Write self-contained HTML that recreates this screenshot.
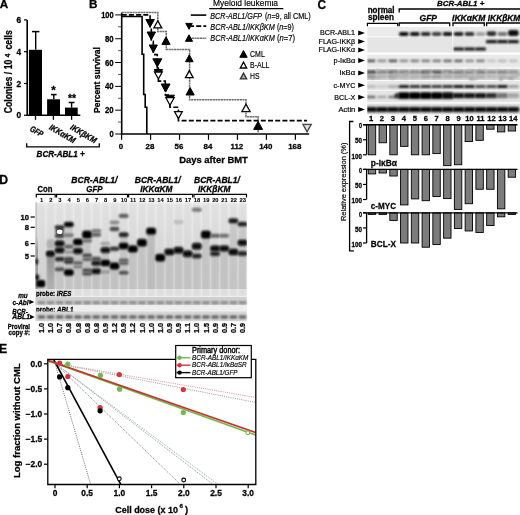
<!DOCTYPE html>
<html><head><meta charset="utf-8"><style>
html,body{margin:0;padding:0;background:#fff;width:520px;height:515px;overflow:hidden}
svg{display:block;filter:blur(0.35px)}
text{font-family:"Liberation Sans", sans-serif}
</style></head><body>
<svg width="520" height="515" viewBox="0 0 520 515" font-family='"Liberation Sans", sans-serif'><defs><filter id="b3" x="-50%" y="-50%" width="200%" height="200%"><feGaussianBlur stdDeviation="0.3"/></filter><filter id="b4" x="-50%" y="-50%" width="200%" height="200%"><feGaussianBlur stdDeviation="0.4"/></filter><filter id="b5" x="-50%" y="-50%" width="200%" height="200%"><feGaussianBlur stdDeviation="0.5"/></filter><filter id="b6" x="-50%" y="-50%" width="200%" height="200%"><feGaussianBlur stdDeviation="0.6"/></filter><filter id="b7" x="-50%" y="-50%" width="200%" height="200%"><feGaussianBlur stdDeviation="0.7"/></filter><filter id="b8" x="-50%" y="-50%" width="200%" height="200%"><feGaussianBlur stdDeviation="0.8"/></filter><filter id="b9" x="-50%" y="-50%" width="200%" height="200%"><feGaussianBlur stdDeviation="0.9"/></filter><filter id="b10" x="-50%" y="-50%" width="200%" height="200%"><feGaussianBlur stdDeviation="1.0"/></filter><filter id="b11" x="-50%" y="-50%" width="200%" height="200%"><feGaussianBlur stdDeviation="1.1"/></filter><filter id="b12" x="-50%" y="-50%" width="200%" height="200%"><feGaussianBlur stdDeviation="1.2"/></filter><filter id="b13" x="-50%" y="-50%" width="200%" height="200%"><feGaussianBlur stdDeviation="1.3"/></filter><filter id="b14" x="-50%" y="-50%" width="200%" height="200%"><feGaussianBlur stdDeviation="1.4"/></filter><filter id="b15" x="-50%" y="-50%" width="200%" height="200%"><feGaussianBlur stdDeviation="1.5"/></filter><filter id="b16" x="-50%" y="-50%" width="200%" height="200%"><feGaussianBlur stdDeviation="1.6"/></filter><filter id="b17" x="-50%" y="-50%" width="200%" height="200%"><feGaussianBlur stdDeviation="1.7"/></filter><filter id="b18" x="-50%" y="-50%" width="200%" height="200%"><feGaussianBlur stdDeviation="1.8"/></filter><filter id="b19" x="-50%" y="-50%" width="200%" height="200%"><feGaussianBlur stdDeviation="1.9"/></filter><filter id="b20" x="-50%" y="-50%" width="200%" height="200%"><feGaussianBlur stdDeviation="2.0"/></filter></defs><text x="-0.30" y="8.10" font-size="11.7" font-weight="bold" font-style="normal" text-anchor="start" fill="#000" stroke="#000" stroke-width="0.28">A</text>
<line x1="27.20" y1="19.90" x2="27.20" y2="116.10" stroke="#000" stroke-width="1.6"/>
<line x1="24.00" y1="115.30" x2="27.20" y2="115.30" stroke="#000" stroke-width="1.2"/>
<text x="21.00" y="118.30" font-size="8.3" font-weight="bold" font-style="normal" text-anchor="end" fill="#000" stroke="#000" stroke-width="0.28">0</text>
<line x1="24.00" y1="83.50" x2="27.20" y2="83.50" stroke="#000" stroke-width="1.2"/>
<text x="21.00" y="86.50" font-size="8.3" font-weight="bold" font-style="normal" text-anchor="end" fill="#000" stroke="#000" stroke-width="0.28">2</text>
<line x1="24.00" y1="51.70" x2="27.20" y2="51.70" stroke="#000" stroke-width="1.2"/>
<text x="21.00" y="54.70" font-size="8.3" font-weight="bold" font-style="normal" text-anchor="end" fill="#000" stroke="#000" stroke-width="0.28">4</text>
<line x1="24.00" y1="19.90" x2="27.20" y2="19.90" stroke="#000" stroke-width="1.2"/>
<text x="21.00" y="22.90" font-size="8.3" font-weight="bold" font-style="normal" text-anchor="end" fill="#000" stroke="#000" stroke-width="0.28">6</text>
<line x1="26.40" y1="115.30" x2="80.30" y2="115.30" stroke="#000" stroke-width="1.6"/>
<rect x="28.90" y="49.80" width="13.10" height="65.50" fill="#000"/>
<rect x="47.10" y="99.30" width="12.90" height="16.00" fill="#000"/>
<rect x="65.00" y="107.60" width="12.70" height="7.70" fill="#000"/>
<line x1="35.70" y1="31.60" x2="35.70" y2="49.80" stroke="#000" stroke-width="1.4"/>
<line x1="32.00" y1="31.60" x2="39.40" y2="31.60" stroke="#000" stroke-width="1.5"/>
<line x1="53.80" y1="94.60" x2="53.80" y2="99.30" stroke="#000" stroke-width="1.4"/>
<line x1="51.00" y1="94.60" x2="56.60" y2="94.60" stroke="#000" stroke-width="1.5"/>
<line x1="71.60" y1="102.50" x2="71.60" y2="107.60" stroke="#000" stroke-width="1.4"/>
<line x1="68.70" y1="102.50" x2="74.50" y2="102.50" stroke="#000" stroke-width="1.5"/>
<line x1="35.50" y1="115.30" x2="35.50" y2="119.80" stroke="#000" stroke-width="1.3"/>
<line x1="53.40" y1="115.30" x2="53.40" y2="119.80" stroke="#000" stroke-width="1.3"/>
<line x1="71.60" y1="115.30" x2="71.60" y2="119.80" stroke="#000" stroke-width="1.3"/>
<text x="53.50" y="93.60" font-size="11.5" font-weight="bold" font-style="normal" text-anchor="middle" fill="#000" stroke="#000" stroke-width="0.28">*</text>
<text x="72.00" y="102.40" font-size="11.5" font-weight="bold" font-style="normal" text-anchor="middle" fill="#000" stroke="#000" stroke-width="0.28" textLength="8.0" lengthAdjust="spacingAndGlyphs">**</text>
<text x="29.30" y="130.50" font-size="8.6" font-weight="bold" font-style="italic" text-anchor="start" fill="#000" stroke="#000" stroke-width="0.28" textLength="13.6" lengthAdjust="spacingAndGlyphs" transform="rotate(30 29.30 130.50)">GFP</text>
<text x="48.50" y="129.10" font-size="8.6" font-weight="bold" font-style="italic" text-anchor="start" fill="#000" stroke="#000" stroke-width="0.28" textLength="28.8" lengthAdjust="spacingAndGlyphs" transform="rotate(30 48.50 129.10)">IKK&#945;KM</text>
<text x="69.60" y="129.10" font-size="8.6" font-weight="bold" font-style="italic" text-anchor="start" fill="#000" stroke="#000" stroke-width="0.28" textLength="28.8" lengthAdjust="spacingAndGlyphs" transform="rotate(30 69.60 129.10)">IKK&#946;KM</text>
<path d="M26.7,143.3 L26.7,146.9 L99.3,146.9 L99.3,143.3" stroke="#000" stroke-width="1.3" fill="none"/>
<text x="36.60" y="157.20" font-size="8.2" font-weight="bold" font-style="italic" text-anchor="start" fill="#000" stroke="#000" stroke-width="0.28" textLength="48.1" lengthAdjust="spacingAndGlyphs">BCR-ABL1 +</text>
<text x="11.70" y="113.20" font-size="10.4" font-weight="bold" font-style="normal" text-anchor="start" fill="#000" stroke="#000" stroke-width="0.28" textLength="53.5" lengthAdjust="spacingAndGlyphs" transform="rotate(-90 11.70 113.20)">Colonies / 10</text>
<text x="9.60" y="57.20" font-size="6.6" font-weight="bold" font-style="normal" text-anchor="start" fill="#000" stroke="#000" stroke-width="0.28" transform="rotate(-90 9.60 57.20)">4</text>
<text x="11.70" y="49.50" font-size="10.4" font-weight="bold" font-style="normal" text-anchor="start" fill="#000" stroke="#000" stroke-width="0.28" textLength="19.4" lengthAdjust="spacingAndGlyphs" transform="rotate(-90 11.70 49.50)">cells</text>
<text x="89.00" y="8.30" font-size="11.7" font-weight="bold" font-style="normal" text-anchor="start" fill="#000" stroke="#000" stroke-width="0.28">B</text>
<line x1="121.70" y1="12.60" x2="121.70" y2="134.60" stroke="#000" stroke-width="1.6"/>
<line x1="115.20" y1="134.00" x2="121.70" y2="134.00" stroke="#000" stroke-width="1.0"/>
<text x="113.60" y="137.00" font-size="8.2" font-weight="bold" font-style="normal" text-anchor="end" fill="#000" stroke="#000" stroke-width="0.28" textLength="4.2" lengthAdjust="spacingAndGlyphs">0</text>
<line x1="118.00" y1="122.09" x2="121.70" y2="122.09" stroke="#333" stroke-width="0.8"/>
<line x1="115.20" y1="110.18" x2="121.70" y2="110.18" stroke="#000" stroke-width="1.0"/>
<text x="113.60" y="113.18" font-size="8.2" font-weight="bold" font-style="normal" text-anchor="end" fill="#000" stroke="#000" stroke-width="0.28" textLength="8.6" lengthAdjust="spacingAndGlyphs">20</text>
<line x1="118.00" y1="98.27" x2="121.70" y2="98.27" stroke="#333" stroke-width="0.8"/>
<line x1="115.20" y1="86.36" x2="121.70" y2="86.36" stroke="#000" stroke-width="1.0"/>
<text x="113.60" y="89.36" font-size="8.2" font-weight="bold" font-style="normal" text-anchor="end" fill="#000" stroke="#000" stroke-width="0.28" textLength="8.6" lengthAdjust="spacingAndGlyphs">40</text>
<line x1="118.00" y1="74.45" x2="121.70" y2="74.45" stroke="#333" stroke-width="0.8"/>
<line x1="115.20" y1="62.54" x2="121.70" y2="62.54" stroke="#000" stroke-width="1.0"/>
<text x="113.60" y="65.54" font-size="8.2" font-weight="bold" font-style="normal" text-anchor="end" fill="#000" stroke="#000" stroke-width="0.28" textLength="8.6" lengthAdjust="spacingAndGlyphs">60</text>
<line x1="118.00" y1="50.63" x2="121.70" y2="50.63" stroke="#333" stroke-width="0.8"/>
<line x1="115.20" y1="38.72" x2="121.70" y2="38.72" stroke="#000" stroke-width="1.0"/>
<text x="113.60" y="41.72" font-size="8.2" font-weight="bold" font-style="normal" text-anchor="end" fill="#000" stroke="#000" stroke-width="0.28" textLength="8.6" lengthAdjust="spacingAndGlyphs">80</text>
<line x1="118.00" y1="26.81" x2="121.70" y2="26.81" stroke="#333" stroke-width="0.8"/>
<line x1="115.20" y1="14.90" x2="121.70" y2="14.90" stroke="#000" stroke-width="1.0"/>
<text x="113.60" y="17.90" font-size="8.2" font-weight="bold" font-style="normal" text-anchor="end" fill="#000" stroke="#000" stroke-width="0.28" textLength="12.4" lengthAdjust="spacingAndGlyphs">100</text>
<line x1="121.00" y1="134.00" x2="309.20" y2="134.00" stroke="#000" stroke-width="1.6"/>
<line x1="121.60" y1="134.00" x2="121.60" y2="139.80" stroke="#000" stroke-width="1.2"/>
<text x="121.00" y="148.70" font-size="7.9" font-weight="bold" font-style="normal" text-anchor="middle" fill="#000" stroke="#000" stroke-width="0.28">0</text>
<line x1="150.57" y1="134.00" x2="150.57" y2="139.80" stroke="#000" stroke-width="1.2"/>
<text x="149.97" y="148.70" font-size="7.9" font-weight="bold" font-style="normal" text-anchor="middle" fill="#000" stroke="#000" stroke-width="0.28">28</text>
<line x1="179.53" y1="134.00" x2="179.53" y2="139.80" stroke="#000" stroke-width="1.2"/>
<text x="178.93" y="148.70" font-size="7.9" font-weight="bold" font-style="normal" text-anchor="middle" fill="#000" stroke="#000" stroke-width="0.28">56</text>
<line x1="208.50" y1="134.00" x2="208.50" y2="139.80" stroke="#000" stroke-width="1.2"/>
<text x="207.90" y="148.70" font-size="7.9" font-weight="bold" font-style="normal" text-anchor="middle" fill="#000" stroke="#000" stroke-width="0.28">84</text>
<line x1="237.46" y1="134.00" x2="237.46" y2="139.80" stroke="#000" stroke-width="1.2"/>
<text x="236.86" y="148.70" font-size="7.9" font-weight="bold" font-style="normal" text-anchor="middle" fill="#000" stroke="#000" stroke-width="0.28">112</text>
<line x1="266.43" y1="134.00" x2="266.43" y2="139.80" stroke="#000" stroke-width="1.2"/>
<text x="265.83" y="148.70" font-size="7.9" font-weight="bold" font-style="normal" text-anchor="middle" fill="#000" stroke="#000" stroke-width="0.28">140</text>
<line x1="295.40" y1="134.00" x2="295.40" y2="139.80" stroke="#000" stroke-width="1.2"/>
<text x="294.80" y="148.70" font-size="7.9" font-weight="bold" font-style="normal" text-anchor="middle" fill="#000" stroke="#000" stroke-width="0.28">168</text>
<text x="179.20" y="163.30" font-size="9.3" font-weight="bold" font-style="normal" text-anchor="start" fill="#000" stroke="#000" stroke-width="0.28" textLength="68.7" lengthAdjust="spacingAndGlyphs">Days after BMT</text>
<text x="100.20" y="113.00" font-size="9.9" font-weight="bold" font-style="normal" text-anchor="start" fill="#000" stroke="#000" stroke-width="0.28" textLength="66.0" lengthAdjust="spacingAndGlyphs" transform="rotate(-90 100.20 113.00)">Percent survival</text>
<path d="M121.7,12.6 H157.8 V31.4 H166.3 V49.4 H189.6 V99.8 H246 V116.8 H258.1 V134" stroke="#6e6e6e" stroke-width="1.5" fill="none" stroke-dasharray="2.2 0.5"/>
<path d="M121.7,16.5 H142.1 V54.2 H143.7 V94.5 H145.2 V107.3 H146.8 V134" stroke="#000" stroke-width="1.6" fill="none"/>
<path d="M121.7,14.9 H150.1 V28.1 H151.3 V41.3 H153.3 V54.6 H157.3 V68.0 H158.4 V81.1 H165.3 V95 H169.9 V107.3 H178.4 V120.6 H307.1" stroke="#000" stroke-width="1.6" fill="none" stroke-dasharray="5 2.2"/>
<path d="M145.86,19.50 L154.34,19.50 L150.10,27.20 Z" stroke="#000" stroke-width="1.0" fill="#000" stroke-linejoin="miter"/>
<path d="M147.06,32.00 L155.54,32.00 L151.30,39.70 Z" stroke="#000" stroke-width="1.0" fill="#000" stroke-linejoin="miter"/>
<path d="M149.18,45.00 L157.43,45.00 L153.30,52.50 Z" stroke="#000" stroke-width="1.0" fill="#000" stroke-linejoin="miter"/>
<path d="M152.84,58.80 L161.76,58.80 L157.30,66.90 Z" stroke="#000" stroke-width="1.0" fill="#000" stroke-linejoin="miter"/>
<path d="M154.22,69.50 L162.58,69.50 L158.40,77.10 Z" stroke="#000" stroke-width="1.0" fill="#000" stroke-linejoin="miter"/>
<path d="M154.52,72.00 L162.28,72.00 L158.40,79.00 Z" stroke="#000" stroke-width="1.3" fill="#fff" stroke-linejoin="miter"/>
<path d="M161.15,84.00 L170.05,84.00 L165.60,92.10 Z" stroke="#000" stroke-width="1.0" fill="#000" stroke-linejoin="miter"/>
<path d="M165.55,95.20 L174.45,95.20 L170.00,103.30 Z" stroke="#000" stroke-width="1.0" fill="#000" stroke-linejoin="miter"/>
<path d="M165.84,97.70 L174.16,97.70 L170.00,105.20 Z" stroke="#000" stroke-width="1.3" fill="#fff" stroke-linejoin="miter"/>
<path d="M174.58,111.70 L182.22,111.70 L178.40,118.60 Z" stroke="#000" stroke-width="1.3" fill="#fff" stroke-linejoin="miter"/>
<path d="M302.95,124.30 L311.25,124.30 L307.10,131.80 Z" stroke="#444" stroke-width="1.3" fill="#dcdcdc" stroke-linejoin="miter"/>
<path d="M153.87,27.90 L161.74,27.90 L157.80,20.80 Z" stroke="#000" stroke-width="1.3" fill="#fff" stroke-linejoin="miter"/>
<path d="M161.88,44.40 L170.12,44.40 L166.00,36.90 Z" stroke="#000" stroke-width="1.0" fill="#000" stroke-linejoin="miter"/>
<path d="M185.50,61.70 L193.10,61.70 L189.30,54.80 Z" stroke="#000" stroke-width="1.0" fill="#000" stroke-linejoin="miter"/>
<path d="M185.48,77.60 L193.12,77.60 L189.30,70.70 Z" stroke="#000" stroke-width="1.3" fill="#fff" stroke-linejoin="miter"/>
<path d="M185.97,95.00 L194.22,95.00 L190.10,87.50 Z" stroke="#000" stroke-width="1.0" fill="#000" stroke-linejoin="miter"/>
<path d="M241.84,111.60 L250.16,111.60 L246.00,104.10 Z" stroke="#111" stroke-width="1.3" fill="#f4f4f4" stroke-linejoin="miter"/>
<path d="M253.65,129.40 L262.56,129.40 L258.10,121.30 Z" stroke="#000" stroke-width="1.0" fill="#000" stroke-linejoin="miter"/>
<text x="213.00" y="6.40" font-size="8.8" font-weight="normal" font-style="normal" text-anchor="start" fill="#000" stroke="#000" stroke-width="0.18" textLength="65.0" lengthAdjust="spacingAndGlyphs">Myeloid leukemia</text>
<line x1="209.20" y1="8.60" x2="283.30" y2="8.60" stroke="#000" stroke-width="1.3"/>
<line x1="190.80" y1="15.10" x2="206.30" y2="15.10" stroke="#000" stroke-width="1.6"/>
<line x1="189.00" y1="26.10" x2="206.30" y2="26.10" stroke="#000" stroke-width="1.6" stroke-dasharray="5 2.2"/>
<line x1="189.00" y1="38.20" x2="206.30" y2="38.20" stroke="#6e6e6e" stroke-width="1.5" stroke-dasharray="2.2 0.5"/>
<path d="M185.75,23.40 L192.25,23.40 L189.00,29.30 Z" stroke="#000" stroke-width="1.0" fill="#000" stroke-linejoin="miter"/>
<path d="M185.43,41.30 L192.57,41.30 L189.00,34.80 Z" stroke="#000" stroke-width="1.0" fill="#000" stroke-linejoin="miter"/>
<text x="210.30" y="18.60" font-size="8.6" font-weight="normal" font-style="italic" text-anchor="start" fill="#000" stroke="#000" stroke-width="0.18" textLength="51.8" lengthAdjust="spacingAndGlyphs">BCR-ABL1/GFP</text>
<text x="264.90" y="18.60" font-size="8.6" font-weight="normal" font-style="normal" text-anchor="start" fill="#000" stroke="#000" stroke-width="0.18" textLength="45.9" lengthAdjust="spacingAndGlyphs">(<tspan font-style="italic">n</tspan>=9, all CML)</text>
<text x="210.30" y="30.00" font-size="8.6" font-weight="normal" font-style="italic" text-anchor="start" fill="#000" stroke="#000" stroke-width="0.18" textLength="64.5" lengthAdjust="spacingAndGlyphs">BCR-ABL1/IKK&#946;KM</text>
<text x="276.90" y="30.00" font-size="8.6" font-weight="normal" font-style="normal" text-anchor="start" fill="#000" stroke="#000" stroke-width="0.18" textLength="17.0" lengthAdjust="spacingAndGlyphs">(<tspan font-style="italic">n</tspan>=9)</text>
<text x="210.30" y="40.80" font-size="8.6" font-weight="normal" font-style="italic" text-anchor="start" fill="#000" stroke="#000" stroke-width="0.18" textLength="64.5" lengthAdjust="spacingAndGlyphs">BCR-ABL1/IKK&#945;KM</text>
<text x="276.90" y="40.80" font-size="8.6" font-weight="normal" font-style="normal" text-anchor="start" fill="#000" stroke="#000" stroke-width="0.18" textLength="18.1" lengthAdjust="spacingAndGlyphs">(<tspan font-style="italic">n</tspan>=7)</text>
<path d="M239.81,57.30 L247.19,57.30 L243.50,50.60 Z" stroke="#000" stroke-width="1.0" fill="#000" stroke-linejoin="miter"/>
<path d="M240.28,68.00 L246.72,68.00 L243.50,62.20 Z" stroke="#000" stroke-width="1.3" fill="#fff" stroke-linejoin="miter"/>
<path d="M240.34,78.90 L246.66,78.90 L243.50,73.20 Z" stroke="#333" stroke-width="1.3" fill="#a8a8a8" stroke-linejoin="miter"/>
<text x="250.10" y="57.20" font-size="8.3" font-weight="normal" font-style="normal" text-anchor="start" fill="#000" stroke="#000" stroke-width="0.18" textLength="14.7" lengthAdjust="spacingAndGlyphs">CML</text>
<text x="250.10" y="68.20" font-size="8.3" font-weight="normal" font-style="normal" text-anchor="start" fill="#000" stroke="#000" stroke-width="0.18" textLength="19.3" lengthAdjust="spacingAndGlyphs">B-ALL</text>
<text x="250.10" y="79.00" font-size="8.3" font-weight="normal" font-style="normal" text-anchor="start" fill="#000" stroke="#000" stroke-width="0.18" textLength="9.5" lengthAdjust="spacingAndGlyphs">HS</text>
<text x="317.60" y="8.50" font-size="11.9" font-weight="bold" font-style="normal" text-anchor="start" fill="#000" stroke="#000" stroke-width="0.28">C</text>
<text x="367.70" y="12.80" font-size="8.6" font-weight="bold" font-style="normal" text-anchor="start" fill="#000" stroke="#000" stroke-width="0.28" textLength="26.9" lengthAdjust="spacingAndGlyphs">normal</text>
<text x="368.00" y="19.90" font-size="8.6" font-weight="bold" font-style="normal" text-anchor="start" fill="#000" stroke="#000" stroke-width="0.28" textLength="26.0" lengthAdjust="spacingAndGlyphs">spleen</text>
<path d="M367.4,26.2 V23.4 H397.7 V26.2" stroke="#000" stroke-width="1.2" fill="none"/>
<path d="M399.2,12.6 V9.0 H521" stroke="#000" stroke-width="1.3" fill="none"/>
<text x="437.00" y="6.40" font-size="8.0" font-weight="bold" font-style="italic" text-anchor="start" fill="#000" stroke="#000" stroke-width="0.28" textLength="47.3" lengthAdjust="spacingAndGlyphs">BCR-ABL1 +</text>
<text x="419.60" y="20.80" font-size="9.0" font-weight="bold" font-style="italic" text-anchor="start" fill="#000" stroke="#000" stroke-width="0.28" textLength="17.4" lengthAdjust="spacingAndGlyphs">GFP</text>
<text x="452.00" y="20.80" font-size="9.0" font-weight="bold" font-style="italic" text-anchor="start" fill="#000" stroke="#000" stroke-width="0.28" textLength="33.4" lengthAdjust="spacingAndGlyphs">IKK&#945;KM</text>
<text x="487.80" y="20.80" font-size="9.0" font-weight="bold" font-style="italic" text-anchor="start" fill="#000" stroke="#000" stroke-width="0.28" textLength="32.5" lengthAdjust="spacingAndGlyphs">IKK&#946;KM</text>
<path d="M399.2,26.2 V23.0 H449.7 V26.2" stroke="#000" stroke-width="1.3" fill="none"/>
<path d="M453.0,26.2 V23.0 H484.3 V26.2" stroke="#000" stroke-width="1.3" fill="none"/>
<path d="M486.6,26.2 V23.0 H521" stroke="#000" stroke-width="1.3" fill="none"/>
<rect x="367.30" y="27.00" width="152.70" height="9.50" fill="#ebebeb"/>
<rect x="367.30" y="37.40" width="152.70" height="15.20" fill="#e5e5e5"/>
<rect x="367.30" y="54.70" width="152.70" height="12.90" fill="#e9e9e9"/>
<rect x="367.30" y="68.80" width="152.70" height="11.30" fill="#d6d6d6"/>
<rect x="367.30" y="81.00" width="152.70" height="8.90" fill="#e6e6e6"/>
<rect x="367.30" y="90.60" width="152.70" height="11.70" fill="#e4e4e4"/>
<rect x="367.30" y="103.60" width="152.70" height="10.80" fill="#dcdcdc"/>
<clipPath id="cc"><rect x="367.3" y="0" width="153" height="120"/></clipPath><g clip-path="url(#cc)">
<rect x="398.95" y="32.10" width="9.80" height="3.80" rx="1.90" fill="rgb(12,12,12)" filter="url(#b8)"/>
<rect x="409.90" y="32.10" width="9.80" height="3.80" rx="1.90" fill="rgb(23,23,23)" filter="url(#b8)"/>
<rect x="420.85" y="32.10" width="9.80" height="3.80" rx="1.90" fill="rgb(42,42,42)" filter="url(#b8)"/>
<rect x="431.80" y="32.10" width="9.80" height="3.80" rx="1.90" fill="rgb(65,65,65)" filter="url(#b8)"/>
<rect x="442.75" y="32.10" width="9.80" height="3.80" rx="1.90" fill="rgb(23,23,23)" filter="url(#b8)"/>
<rect x="453.70" y="32.10" width="9.80" height="3.80" rx="1.90" fill="rgb(28,28,28)" filter="url(#b8)"/>
<rect x="464.65" y="32.10" width="9.80" height="3.80" rx="1.90" fill="rgb(51,51,51)" filter="url(#b8)"/>
<rect x="475.60" y="32.10" width="9.80" height="3.80" rx="1.90" fill="rgb(162,162,162)" filter="url(#b8)"/>
<rect x="486.55" y="31.30" width="9.80" height="4.60" rx="2.30" fill="rgb(46,46,46)" filter="url(#b8)"/>
<rect x="497.50" y="32.10" width="9.80" height="3.80" rx="1.90" fill="rgb(116,116,116)" filter="url(#b8)"/>
<rect x="508.10" y="30.00" width="10.50" height="6.00" rx="2.50" fill="rgb(7,7,7)" filter="url(#b8)"/>
<rect x="485.85" y="40.10" width="11.20" height="3.20" rx="1.60" fill="rgb(19,19,19)" filter="url(#b8)"/>
<rect x="496.80" y="40.10" width="11.20" height="3.20" rx="1.60" fill="rgb(19,19,19)" filter="url(#b8)"/>
<rect x="507.75" y="40.10" width="11.20" height="3.20" rx="1.60" fill="rgb(19,19,19)" filter="url(#b8)"/>
<rect x="453.00" y="47.40" width="11.20" height="3.20" rx="1.60" fill="rgb(19,19,19)" filter="url(#b8)"/>
<rect x="463.95" y="47.40" width="11.20" height="3.20" rx="1.60" fill="rgb(19,19,19)" filter="url(#b8)"/>
<rect x="474.90" y="47.40" width="11.20" height="3.20" rx="1.60" fill="rgb(19,19,19)" filter="url(#b8)"/>
<rect x="366.50" y="59.40" width="9.00" height="2.80" rx="1.40" fill="rgb(88,88,88)" filter="url(#b8)"/>
<rect x="377.45" y="59.40" width="9.00" height="2.80" rx="1.40" fill="rgb(144,144,144)" filter="url(#b8)"/>
<rect x="388.40" y="59.40" width="9.00" height="2.80" rx="1.40" fill="rgb(88,88,88)" filter="url(#b8)"/>
<rect x="399.35" y="59.40" width="9.00" height="2.80" rx="1.40" fill="rgb(144,144,144)" filter="url(#b8)"/>
<rect x="410.30" y="59.40" width="9.00" height="2.80" rx="1.40" fill="rgb(128,128,128)" filter="url(#b8)"/>
<rect x="421.25" y="59.40" width="9.00" height="2.80" rx="1.40" fill="rgb(128,128,128)" filter="url(#b8)"/>
<rect x="432.20" y="59.40" width="9.00" height="2.80" rx="1.40" fill="rgb(128,128,128)" filter="url(#b8)"/>
<rect x="443.15" y="59.40" width="9.00" height="2.80" rx="1.40" fill="rgb(111,111,111)" filter="url(#b8)"/>
<rect x="454.10" y="59.40" width="9.00" height="2.80" rx="1.40" fill="rgb(104,104,104)" filter="url(#b8)"/>
<rect x="465.05" y="59.40" width="9.00" height="2.80" rx="1.40" fill="rgb(144,144,144)" filter="url(#b8)"/>
<rect x="476.00" y="59.40" width="9.00" height="2.80" rx="1.40" fill="rgb(128,128,128)" filter="url(#b8)"/>
<rect x="486.95" y="59.40" width="9.00" height="2.80" rx="1.40" fill="rgb(197,197,197)" filter="url(#b8)"/>
<rect x="497.90" y="59.40" width="9.00" height="2.80" rx="1.40" fill="rgb(186,186,186)" filter="url(#b8)"/>
<rect x="508.85" y="59.40" width="9.00" height="2.80" rx="1.40" fill="rgb(190,190,190)" filter="url(#b8)"/>
<rect x="365.60" y="70.30" width="10.80" height="3.80" rx="1.90" fill="rgb(88,88,88)" filter="url(#b10)"/>
<rect x="365.60" y="74.90" width="10.80" height="3.40" rx="1.70" fill="rgb(146,146,146)" filter="url(#b11)"/>
<rect x="376.55" y="70.30" width="10.80" height="3.80" rx="1.90" fill="rgb(135,135,135)" filter="url(#b10)"/>
<rect x="376.55" y="74.90" width="10.80" height="3.40" rx="1.70" fill="rgb(174,174,174)" filter="url(#b11)"/>
<rect x="387.50" y="70.30" width="10.80" height="3.80" rx="1.90" fill="rgb(111,111,111)" filter="url(#b10)"/>
<rect x="387.50" y="74.90" width="10.80" height="3.40" rx="1.70" fill="rgb(160,160,160)" filter="url(#b11)"/>
<rect x="398.45" y="70.30" width="10.80" height="3.80" rx="1.90" fill="rgb(135,135,135)" filter="url(#b10)"/>
<rect x="398.45" y="74.90" width="10.80" height="3.40" rx="1.70" fill="rgb(174,174,174)" filter="url(#b11)"/>
<rect x="409.40" y="70.30" width="10.80" height="3.80" rx="1.90" fill="rgb(135,135,135)" filter="url(#b10)"/>
<rect x="409.40" y="74.90" width="10.80" height="3.40" rx="1.70" fill="rgb(174,174,174)" filter="url(#b11)"/>
<rect x="420.35" y="70.30" width="10.80" height="3.80" rx="1.90" fill="rgb(104,104,104)" filter="url(#b10)"/>
<rect x="420.35" y="74.90" width="10.80" height="3.40" rx="1.70" fill="rgb(155,155,155)" filter="url(#b11)"/>
<rect x="431.30" y="70.30" width="10.80" height="3.80" rx="1.90" fill="rgb(97,97,97)" filter="url(#b10)"/>
<rect x="431.30" y="74.90" width="10.80" height="3.40" rx="1.70" fill="rgb(151,151,151)" filter="url(#b11)"/>
<rect x="442.25" y="70.30" width="10.80" height="3.80" rx="1.90" fill="rgb(128,128,128)" filter="url(#b10)"/>
<rect x="442.25" y="74.90" width="10.80" height="3.40" rx="1.70" fill="rgb(169,169,169)" filter="url(#b11)"/>
<rect x="453.20" y="70.30" width="10.80" height="3.80" rx="1.90" fill="rgb(121,121,121)" filter="url(#b10)"/>
<rect x="453.20" y="74.90" width="10.80" height="3.40" rx="1.70" fill="rgb(165,165,165)" filter="url(#b11)"/>
<rect x="464.15" y="70.30" width="10.80" height="3.80" rx="1.90" fill="rgb(135,135,135)" filter="url(#b10)"/>
<rect x="464.15" y="74.90" width="10.80" height="3.40" rx="1.70" fill="rgb(174,174,174)" filter="url(#b11)"/>
<rect x="475.10" y="70.30" width="10.80" height="3.80" rx="1.90" fill="rgb(128,128,128)" filter="url(#b10)"/>
<rect x="475.10" y="74.90" width="10.80" height="3.40" rx="1.70" fill="rgb(169,169,169)" filter="url(#b11)"/>
<rect x="486.05" y="70.30" width="10.80" height="3.80" rx="1.90" fill="rgb(148,148,148)" filter="url(#b10)"/>
<rect x="486.05" y="74.90" width="10.80" height="3.40" rx="1.70" fill="rgb(182,182,182)" filter="url(#b11)"/>
<rect x="497.00" y="70.30" width="10.80" height="3.80" rx="1.90" fill="rgb(135,135,135)" filter="url(#b10)"/>
<rect x="497.00" y="74.90" width="10.80" height="3.40" rx="1.70" fill="rgb(174,174,174)" filter="url(#b11)"/>
<rect x="507.95" y="70.30" width="10.80" height="3.80" rx="1.90" fill="rgb(148,148,148)" filter="url(#b10)"/>
<rect x="507.95" y="74.90" width="10.80" height="3.40" rx="1.70" fill="rgb(182,182,182)" filter="url(#b11)"/>
<rect x="402.38" y="73.95" width="3.11" height="1.99" rx="0.99" fill="rgb(168,168,168)" filter="url(#b8)"/>
<rect x="375.64" y="68.86" width="4.51" height="1.54" rx="0.77" fill="rgb(186,186,186)" filter="url(#b8)"/>
<rect x="516.09" y="73.29" width="4.51" height="1.82" rx="0.91" fill="rgb(168,168,168)" filter="url(#b8)"/>
<rect x="388.44" y="74.91" width="4.60" height="1.88" rx="0.94" fill="rgb(163,163,163)" filter="url(#b8)"/>
<rect x="467.25" y="69.16" width="4.27" height="1.97" rx="0.98" fill="rgb(183,183,183)" filter="url(#b8)"/>
<rect x="370.97" y="77.09" width="3.42" height="2.13" rx="1.07" fill="rgb(156,156,156)" filter="url(#b8)"/>
<rect x="474.24" y="77.59" width="3.18" height="2.24" rx="1.12" fill="rgb(177,177,177)" filter="url(#b8)"/>
<rect x="508.13" y="77.60" width="2.29" height="1.38" rx="0.69" fill="rgb(187,187,187)" filter="url(#b8)"/>
<rect x="511.85" y="73.07" width="3.88" height="1.59" rx="0.80" fill="rgb(174,174,174)" filter="url(#b8)"/>
<rect x="424.39" y="72.03" width="3.76" height="1.96" rx="0.98" fill="rgb(155,155,155)" filter="url(#b8)"/>
<rect x="468.69" y="77.55" width="4.57" height="2.49" rx="1.24" fill="rgb(166,166,166)" filter="url(#b8)"/>
<rect x="390.18" y="76.92" width="4.89" height="2.38" rx="1.19" fill="rgb(171,171,171)" filter="url(#b8)"/>
<rect x="473.54" y="70.64" width="4.49" height="1.95" rx="0.97" fill="rgb(184,184,184)" filter="url(#b8)"/>
<rect x="375.10" y="77.38" width="4.97" height="1.32" rx="0.66" fill="rgb(160,160,160)" filter="url(#b8)"/>
<rect x="428.54" y="69.91" width="2.88" height="2.20" rx="1.10" fill="rgb(157,157,157)" filter="url(#b8)"/>
<rect x="373.61" y="74.58" width="2.13" height="2.13" rx="1.07" fill="rgb(182,182,182)" filter="url(#b8)"/>
<rect x="499.26" y="78.06" width="3.52" height="2.50" rx="1.25" fill="rgb(183,183,183)" filter="url(#b8)"/>
<rect x="378.58" y="74.77" width="2.09" height="1.46" rx="0.73" fill="rgb(178,178,178)" filter="url(#b8)"/>
<rect x="459.12" y="69.90" width="2.13" height="2.33" rx="1.16" fill="rgb(183,183,183)" filter="url(#b8)"/>
<rect x="511.19" y="77.57" width="3.13" height="1.80" rx="0.90" fill="rgb(173,173,173)" filter="url(#b8)"/>
<rect x="463.39" y="74.45" width="3.68" height="2.01" rx="1.00" fill="rgb(154,154,154)" filter="url(#b8)"/>
<rect x="442.48" y="73.06" width="4.16" height="1.51" rx="0.75" fill="rgb(183,183,183)" filter="url(#b8)"/>
<rect x="513.82" y="74.10" width="3.65" height="1.21" rx="0.61" fill="rgb(178,178,178)" filter="url(#b8)"/>
<rect x="453.65" y="68.69" width="3.85" height="2.02" rx="1.01" fill="rgb(194,194,194)" filter="url(#b8)"/>
<rect x="460.71" y="73.33" width="4.04" height="1.66" rx="0.83" fill="rgb(164,164,164)" filter="url(#b8)"/>
<rect x="478.35" y="68.68" width="2.18" height="2.08" rx="1.04" fill="rgb(153,153,153)" filter="url(#b8)"/>
<rect x="404.03" y="73.26" width="3.78" height="1.62" rx="0.81" fill="rgb(180,180,180)" filter="url(#b8)"/>
<rect x="413.32" y="72.40" width="3.79" height="1.59" rx="0.80" fill="rgb(180,180,180)" filter="url(#b8)"/>
<rect x="482.76" y="68.69" width="3.71" height="2.16" rx="1.08" fill="rgb(183,183,183)" filter="url(#b8)"/>
<rect x="400.25" y="76.82" width="2.72" height="1.44" rx="0.72" fill="rgb(177,177,177)" filter="url(#b8)"/>
<rect x="471.93" y="69.70" width="2.97" height="1.63" rx="0.82" fill="rgb(159,159,159)" filter="url(#b8)"/>
<rect x="432.95" y="77.24" width="2.51" height="1.64" rx="0.82" fill="rgb(167,167,167)" filter="url(#b8)"/>
<rect x="500.28" y="73.33" width="2.68" height="1.36" rx="0.68" fill="rgb(173,173,173)" filter="url(#b8)"/>
<rect x="394.55" y="76.85" width="4.52" height="1.44" rx="0.72" fill="rgb(184,184,184)" filter="url(#b8)"/>
<rect x="487.68" y="75.09" width="4.42" height="1.65" rx="0.82" fill="rgb(191,191,191)" filter="url(#b8)"/>
<rect x="410.68" y="76.61" width="2.81" height="1.65" rx="0.83" fill="rgb(178,178,178)" filter="url(#b8)"/>
<rect x="429.00" y="72.89" width="4.76" height="1.40" rx="0.70" fill="rgb(197,197,197)" filter="url(#b8)"/>
<rect x="507.95" y="77.42" width="4.96" height="1.76" rx="0.88" fill="rgb(153,153,153)" filter="url(#b8)"/>
<rect x="505.92" y="70.58" width="4.24" height="2.29" rx="1.14" fill="rgb(166,166,166)" filter="url(#b8)"/>
<rect x="444.86" y="71.64" width="3.02" height="1.50" rx="0.75" fill="rgb(194,194,194)" filter="url(#b8)"/>
<rect x="454.68" y="71.74" width="4.43" height="1.26" rx="0.63" fill="rgb(155,155,155)" filter="url(#b8)"/>
<rect x="470.40" y="77.55" width="4.69" height="2.37" rx="1.18" fill="rgb(170,170,170)" filter="url(#b8)"/>
<rect x="368.73" y="76.16" width="2.52" height="1.59" rx="0.79" fill="rgb(166,166,166)" filter="url(#b8)"/>
<rect x="444.86" y="72.64" width="4.82" height="2.00" rx="1.00" fill="rgb(181,181,181)" filter="url(#b8)"/>
<rect x="404.41" y="77.01" width="3.43" height="2.22" rx="1.11" fill="rgb(181,181,181)" filter="url(#b8)"/>
<rect x="395.57" y="74.14" width="4.45" height="1.42" rx="0.71" fill="rgb(160,160,160)" filter="url(#b8)"/>
<rect x="504.95" y="76.96" width="4.47" height="1.21" rx="0.60" fill="rgb(168,168,168)" filter="url(#b8)"/>
<rect x="496.84" y="69.22" width="2.81" height="1.55" rx="0.77" fill="rgb(173,173,173)" filter="url(#b8)"/>
<rect x="429.71" y="73.63" width="4.33" height="1.20" rx="0.60" fill="rgb(195,195,195)" filter="url(#b8)"/>
<rect x="386.05" y="69.51" width="2.21" height="2.47" rx="1.23" fill="rgb(158,158,158)" filter="url(#b8)"/>
<rect x="379.53" y="73.72" width="2.95" height="1.61" rx="0.80" fill="rgb(181,181,181)" filter="url(#b8)"/>
<rect x="464.14" y="74.64" width="3.08" height="1.45" rx="0.72" fill="rgb(182,182,182)" filter="url(#b8)"/>
<rect x="384.61" y="74.21" width="4.15" height="1.69" rx="0.85" fill="rgb(193,193,193)" filter="url(#b8)"/>
<rect x="393.06" y="72.12" width="3.81" height="2.22" rx="1.11" fill="rgb(180,180,180)" filter="url(#b8)"/>
<rect x="487.33" y="74.89" width="3.29" height="1.68" rx="0.84" fill="rgb(174,174,174)" filter="url(#b8)"/>
<rect x="472.09" y="72.81" width="4.08" height="1.80" rx="0.90" fill="rgb(186,186,186)" filter="url(#b8)"/>
<rect x="447.80" y="75.58" width="2.21" height="1.75" rx="0.88" fill="rgb(177,177,177)" filter="url(#b8)"/>
<rect x="499.27" y="77.68" width="3.12" height="2.37" rx="1.18" fill="rgb(161,161,161)" filter="url(#b8)"/>
<rect x="406.40" y="73.01" width="2.37" height="2.26" rx="1.13" fill="rgb(166,166,166)" filter="url(#b8)"/>
<rect x="499.99" y="76.35" width="4.00" height="2.15" rx="1.08" fill="rgb(171,171,171)" filter="url(#b8)"/>
<rect x="365.60" y="84.90" width="10.80" height="3.00" rx="1.50" fill="rgb(186,186,186)" filter="url(#b8)"/>
<rect x="376.55" y="84.90" width="10.80" height="3.00" rx="1.50" fill="rgb(204,204,204)" filter="url(#b8)"/>
<rect x="387.50" y="84.90" width="10.80" height="3.00" rx="1.50" fill="rgb(174,174,174)" filter="url(#b8)"/>
<rect x="398.45" y="84.90" width="10.80" height="3.00" rx="1.50" fill="rgb(28,28,28)" filter="url(#b8)"/>
<rect x="409.40" y="84.90" width="10.80" height="3.00" rx="1.50" fill="rgb(46,46,46)" filter="url(#b8)"/>
<rect x="420.35" y="84.90" width="10.80" height="3.00" rx="1.50" fill="rgb(46,46,46)" filter="url(#b8)"/>
<rect x="431.30" y="84.90" width="10.80" height="3.00" rx="1.50" fill="rgb(58,58,58)" filter="url(#b8)"/>
<rect x="442.25" y="84.90" width="10.80" height="3.00" rx="1.50" fill="rgb(46,46,46)" filter="url(#b8)"/>
<rect x="453.20" y="84.90" width="10.80" height="3.00" rx="1.50" fill="rgb(19,19,19)" filter="url(#b8)"/>
<rect x="464.15" y="84.90" width="10.80" height="3.00" rx="1.50" fill="rgb(28,28,28)" filter="url(#b8)"/>
<rect x="475.10" y="84.90" width="10.80" height="3.00" rx="1.50" fill="rgb(74,74,74)" filter="url(#b8)"/>
<rect x="486.05" y="84.90" width="10.80" height="3.00" rx="1.50" fill="rgb(74,74,74)" filter="url(#b8)"/>
<rect x="497.00" y="84.90" width="10.80" height="3.00" rx="1.50" fill="rgb(19,19,19)" filter="url(#b8)"/>
<rect x="507.95" y="84.90" width="10.80" height="3.00" rx="1.50" fill="rgb(158,158,158)" filter="url(#b8)"/>
<rect x="366.25" y="95.80" width="9.50" height="2.40" rx="1.20" fill="rgb(104,104,104)" filter="url(#b8)"/>
<rect x="377.20" y="95.80" width="9.50" height="2.40" rx="1.20" fill="rgb(162,162,162)" filter="url(#b8)"/>
<rect x="388.15" y="95.80" width="9.50" height="2.40" rx="1.20" fill="rgb(116,116,116)" filter="url(#b8)"/>
<rect x="397.85" y="92.20" width="12.00" height="6.80" rx="2.50" fill="rgb(5,5,5)" filter="url(#b9)"/>
<rect x="408.80" y="92.20" width="12.00" height="6.80" rx="2.50" fill="rgb(5,5,5)" filter="url(#b9)"/>
<rect x="419.75" y="92.20" width="12.00" height="6.80" rx="2.50" fill="rgb(5,5,5)" filter="url(#b9)"/>
<rect x="430.70" y="92.20" width="12.00" height="6.80" rx="2.50" fill="rgb(5,5,5)" filter="url(#b9)"/>
<rect x="441.65" y="92.20" width="12.00" height="6.80" rx="2.50" fill="rgb(7,7,7)" filter="url(#b9)"/>
<rect x="452.60" y="93.00" width="12.00" height="5.20" rx="2.50" fill="rgb(19,19,19)" filter="url(#b9)"/>
<rect x="463.55" y="93.00" width="12.00" height="5.20" rx="2.50" fill="rgb(23,23,23)" filter="url(#b9)"/>
<rect x="474.50" y="93.00" width="12.00" height="5.20" rx="2.50" fill="rgb(23,23,23)" filter="url(#b9)"/>
<rect x="485.45" y="93.00" width="12.00" height="5.20" rx="2.50" fill="rgb(46,46,46)" filter="url(#b9)"/>
<rect x="496.40" y="93.00" width="12.00" height="5.20" rx="2.50" fill="rgb(116,116,116)" filter="url(#b9)"/>
<rect x="507.35" y="93.00" width="12.00" height="5.20" rx="2.50" fill="rgb(167,167,167)" filter="url(#b9)"/>
<rect x="394.40" y="93.30" width="5.00" height="5.00" rx="2.50" fill="rgb(46,46,46)" filter="url(#b9)"/>
<rect x="365.00" y="107.00" width="12.00" height="5.00" rx="2.50" fill="rgb(7,7,7)" filter="url(#b9)"/>
<rect x="375.95" y="107.00" width="12.00" height="5.00" rx="2.50" fill="rgb(7,7,7)" filter="url(#b9)"/>
<rect x="386.90" y="107.00" width="12.00" height="5.00" rx="2.50" fill="rgb(7,7,7)" filter="url(#b9)"/>
<rect x="397.85" y="107.00" width="12.00" height="5.00" rx="2.50" fill="rgb(7,7,7)" filter="url(#b9)"/>
<rect x="408.80" y="107.00" width="12.00" height="5.00" rx="2.50" fill="rgb(7,7,7)" filter="url(#b9)"/>
<rect x="419.75" y="107.00" width="12.00" height="5.00" rx="2.50" fill="rgb(7,7,7)" filter="url(#b9)"/>
<rect x="430.70" y="107.00" width="12.00" height="5.00" rx="2.50" fill="rgb(7,7,7)" filter="url(#b9)"/>
<rect x="441.65" y="107.00" width="12.00" height="5.00" rx="2.50" fill="rgb(7,7,7)" filter="url(#b9)"/>
<rect x="452.60" y="107.00" width="12.00" height="5.00" rx="2.50" fill="rgb(7,7,7)" filter="url(#b9)"/>
<rect x="463.55" y="107.00" width="12.00" height="5.00" rx="2.50" fill="rgb(7,7,7)" filter="url(#b9)"/>
<rect x="474.50" y="107.00" width="12.00" height="5.00" rx="2.50" fill="rgb(7,7,7)" filter="url(#b9)"/>
<rect x="485.45" y="107.00" width="12.00" height="5.00" rx="2.50" fill="rgb(7,7,7)" filter="url(#b9)"/>
<rect x="496.40" y="107.00" width="12.00" height="5.00" rx="2.50" fill="rgb(7,7,7)" filter="url(#b9)"/>
<rect x="507.35" y="107.00" width="12.00" height="5.00" rx="2.50" fill="rgb(7,7,7)" filter="url(#b9)"/>
</g>
<line x1="452.80" y1="27.00" x2="452.80" y2="52.60" stroke="#fafafa" stroke-width="0.9"/>
<text x="320.00" y="35.40" font-size="6.7" font-weight="normal" font-style="normal" text-anchor="start" fill="#000" stroke="#000" stroke-width="0.18" textLength="35.0" lengthAdjust="spacingAndGlyphs">BCR-ABL1</text>
<path d="M358.20,30.50 L365.00,33.00 L358.20,35.50 Z" stroke="#000" stroke-width="0" fill="#000"/>
<text x="318.60" y="43.90" font-size="6.7" font-weight="normal" font-style="normal" text-anchor="start" fill="#000" stroke="#000" stroke-width="0.18" textLength="36.4" lengthAdjust="spacingAndGlyphs">FLAG-IKK&#946;</text>
<path d="M358.20,39.00 L365.00,41.50 L358.20,44.00 Z" stroke="#000" stroke-width="0" fill="#000"/>
<text x="318.60" y="52.40" font-size="6.7" font-weight="normal" font-style="normal" text-anchor="start" fill="#000" stroke="#000" stroke-width="0.18" textLength="36.4" lengthAdjust="spacingAndGlyphs">FLAG-IKK&#945;</text>
<path d="M358.20,47.50 L365.00,50.00 L358.20,52.50 Z" stroke="#000" stroke-width="0" fill="#000"/>
<text x="333.50" y="63.00" font-size="6.7" font-weight="normal" font-style="normal" text-anchor="start" fill="#000" stroke="#000" stroke-width="0.18" textLength="21.7" lengthAdjust="spacingAndGlyphs">p-I&#954;B&#945;</text>
<path d="M358.20,58.10 L365.00,60.60 L358.20,63.10 Z" stroke="#000" stroke-width="0" fill="#000"/>
<text x="339.60" y="75.40" font-size="6.7" font-weight="normal" font-style="normal" text-anchor="start" fill="#000" stroke="#000" stroke-width="0.18" textLength="15.6" lengthAdjust="spacingAndGlyphs">I&#954;B&#945;</text>
<path d="M358.20,70.50 L365.00,73.00 L358.20,75.50 Z" stroke="#000" stroke-width="0" fill="#000"/>
<text x="333.40" y="87.60" font-size="6.7" font-weight="normal" font-style="normal" text-anchor="start" fill="#000" stroke="#000" stroke-width="0.18" textLength="22.0" lengthAdjust="spacingAndGlyphs">c-MYC</text>
<path d="M358.20,82.70 L365.00,85.20 L358.20,87.70 Z" stroke="#000" stroke-width="0" fill="#000"/>
<text x="334.30" y="99.60" font-size="6.7" font-weight="normal" font-style="normal" text-anchor="start" fill="#000" stroke="#000" stroke-width="0.18" textLength="21.0" lengthAdjust="spacingAndGlyphs">BCL-X</text>
<path d="M358.20,94.70 L365.00,97.20 L358.20,99.70 Z" stroke="#000" stroke-width="0" fill="#000"/>
<text x="338.50" y="111.90" font-size="6.7" font-weight="normal" font-style="normal" text-anchor="start" fill="#000" stroke="#000" stroke-width="0.18" textLength="16.8" lengthAdjust="spacingAndGlyphs">Actin</text>
<path d="M358.20,107.00 L365.00,109.50 L358.20,112.00 Z" stroke="#000" stroke-width="0" fill="#000"/>
<text x="371.00" y="121.20" font-size="7.6" font-weight="bold" font-style="normal" text-anchor="middle" fill="#000" stroke="#000" stroke-width="0.28">1</text>
<text x="381.95" y="121.20" font-size="7.6" font-weight="bold" font-style="normal" text-anchor="middle" fill="#000" stroke="#000" stroke-width="0.28">2</text>
<text x="392.90" y="121.20" font-size="7.6" font-weight="bold" font-style="normal" text-anchor="middle" fill="#000" stroke="#000" stroke-width="0.28">3</text>
<text x="403.85" y="121.20" font-size="7.6" font-weight="bold" font-style="normal" text-anchor="middle" fill="#000" stroke="#000" stroke-width="0.28">4</text>
<text x="414.80" y="121.20" font-size="7.6" font-weight="bold" font-style="normal" text-anchor="middle" fill="#000" stroke="#000" stroke-width="0.28">5</text>
<text x="425.75" y="121.20" font-size="7.6" font-weight="bold" font-style="normal" text-anchor="middle" fill="#000" stroke="#000" stroke-width="0.28">6</text>
<text x="436.70" y="121.20" font-size="7.6" font-weight="bold" font-style="normal" text-anchor="middle" fill="#000" stroke="#000" stroke-width="0.28">7</text>
<text x="447.65" y="121.20" font-size="7.6" font-weight="bold" font-style="normal" text-anchor="middle" fill="#000" stroke="#000" stroke-width="0.28">8</text>
<text x="458.60" y="121.20" font-size="7.6" font-weight="bold" font-style="normal" text-anchor="middle" fill="#000" stroke="#000" stroke-width="0.28">9</text>
<text x="469.55" y="121.20" font-size="7.6" font-weight="bold" font-style="normal" text-anchor="middle" fill="#000" stroke="#000" stroke-width="0.28">10</text>
<text x="480.50" y="121.20" font-size="7.6" font-weight="bold" font-style="normal" text-anchor="middle" fill="#000" stroke="#000" stroke-width="0.28">11</text>
<text x="491.45" y="121.20" font-size="7.6" font-weight="bold" font-style="normal" text-anchor="middle" fill="#000" stroke="#000" stroke-width="0.28">12</text>
<text x="502.40" y="121.20" font-size="7.6" font-weight="bold" font-style="normal" text-anchor="middle" fill="#000" stroke="#000" stroke-width="0.28">13</text>
<text x="513.35" y="121.20" font-size="7.6" font-weight="bold" font-style="normal" text-anchor="middle" fill="#000" stroke="#000" stroke-width="0.28">14</text>
<rect x="368.30" y="124.70" width="7.40" height="30.10" fill="#7c7c7c" stroke="#000" stroke-width="0.9"/>
<rect x="379.06" y="124.70" width="7.40" height="18.06" fill="#7c7c7c" stroke="#000" stroke-width="0.9"/>
<rect x="389.82" y="124.70" width="7.40" height="30.10" fill="#7c7c7c" stroke="#000" stroke-width="0.9"/>
<rect x="400.58" y="124.70" width="7.40" height="21.67" fill="#7c7c7c" stroke="#000" stroke-width="0.9"/>
<rect x="411.34" y="124.70" width="7.40" height="30.10" fill="#7c7c7c" stroke="#000" stroke-width="0.9"/>
<rect x="422.10" y="124.70" width="7.40" height="30.10" fill="#7c7c7c" stroke="#000" stroke-width="0.9"/>
<rect x="432.86" y="124.70" width="7.40" height="28.90" fill="#7c7c7c" stroke="#000" stroke-width="0.9"/>
<rect x="443.62" y="124.70" width="7.40" height="40.94" fill="#7c7c7c" stroke="#000" stroke-width="0.9"/>
<rect x="454.38" y="124.70" width="7.40" height="40.03" fill="#7c7c7c" stroke="#000" stroke-width="0.9"/>
<rect x="465.14" y="124.70" width="7.40" height="16.86" fill="#7c7c7c" stroke="#000" stroke-width="0.9"/>
<rect x="475.90" y="124.70" width="7.40" height="15.65" fill="#7c7c7c" stroke="#000" stroke-width="0.9"/>
<rect x="486.66" y="124.70" width="7.40" height="4.51" fill="#7c7c7c" stroke="#000" stroke-width="0.9"/>
<rect x="497.42" y="124.70" width="7.40" height="7.22" fill="#7c7c7c" stroke="#000" stroke-width="0.9"/>
<rect x="508.18" y="124.70" width="7.40" height="6.32" fill="#7c7c7c" stroke="#000" stroke-width="0.9"/>
<line x1="363.20" y1="124.70" x2="517.50" y2="124.70" stroke="#000" stroke-width="1.4"/>
<line x1="366.60" y1="124.70" x2="366.60" y2="154.80" stroke="#000" stroke-width="1.3"/>
<line x1="363.00" y1="124.70" x2="366.60" y2="124.70" stroke="#000" stroke-width="1.2"/>
<text x="362.00" y="128.40" font-size="6.8" font-weight="bold" font-style="normal" text-anchor="end" fill="#000" stroke="#000" stroke-width="0.28" textLength="3.0" lengthAdjust="spacingAndGlyphs">0</text>
<line x1="363.00" y1="139.75" x2="366.60" y2="139.75" stroke="#000" stroke-width="1.2"/>
<text x="362.00" y="143.45" font-size="6.8" font-weight="bold" font-style="normal" text-anchor="end" fill="#000" stroke="#000" stroke-width="0.28" textLength="7.0" lengthAdjust="spacingAndGlyphs">50</text>
<line x1="363.00" y1="154.80" x2="366.60" y2="154.80" stroke="#000" stroke-width="1.2"/>
<text x="362.00" y="158.50" font-size="6.8" font-weight="bold" font-style="normal" text-anchor="end" fill="#000" stroke="#000" stroke-width="0.28" textLength="10.4" lengthAdjust="spacingAndGlyphs">100</text>
<text x="370.80" y="165.80" font-size="9.9" font-weight="bold" font-style="normal" text-anchor="start" fill="#000" stroke="#000" stroke-width="0.28" textLength="26.2" lengthAdjust="spacingAndGlyphs">p-I&#954;B&#945;</text>
<rect x="368.30" y="169.40" width="7.40" height="4.51" fill="#7c7c7c" stroke="#000" stroke-width="0.9"/>
<rect x="379.06" y="169.40" width="7.40" height="3.61" fill="#7c7c7c" stroke="#000" stroke-width="0.9"/>
<rect x="389.82" y="169.40" width="7.40" height="6.62" fill="#7c7c7c" stroke="#000" stroke-width="0.9"/>
<rect x="400.58" y="169.40" width="7.40" height="35.52" fill="#7c7c7c" stroke="#000" stroke-width="0.9"/>
<rect x="411.34" y="169.40" width="7.40" height="29.50" fill="#7c7c7c" stroke="#000" stroke-width="0.9"/>
<rect x="422.10" y="169.40" width="7.40" height="31.30" fill="#7c7c7c" stroke="#000" stroke-width="0.9"/>
<rect x="432.86" y="169.40" width="7.40" height="27.09" fill="#7c7c7c" stroke="#000" stroke-width="0.9"/>
<rect x="443.62" y="169.40" width="7.40" height="29.20" fill="#7c7c7c" stroke="#000" stroke-width="0.9"/>
<rect x="454.38" y="169.40" width="7.40" height="40.03" fill="#7c7c7c" stroke="#000" stroke-width="0.9"/>
<rect x="465.14" y="169.40" width="7.40" height="34.31" fill="#7c7c7c" stroke="#000" stroke-width="0.9"/>
<rect x="475.90" y="169.40" width="7.40" height="19.87" fill="#7c7c7c" stroke="#000" stroke-width="0.9"/>
<rect x="486.66" y="169.40" width="7.40" height="19.87" fill="#7c7c7c" stroke="#000" stroke-width="0.9"/>
<rect x="497.42" y="169.40" width="7.40" height="39.43" fill="#7c7c7c" stroke="#000" stroke-width="0.9"/>
<rect x="508.18" y="169.40" width="7.40" height="7.83" fill="#7c7c7c" stroke="#000" stroke-width="0.9"/>
<line x1="363.20" y1="169.40" x2="517.50" y2="169.40" stroke="#000" stroke-width="1.4"/>
<line x1="366.60" y1="169.40" x2="366.60" y2="199.50" stroke="#000" stroke-width="1.3"/>
<line x1="363.00" y1="169.40" x2="366.60" y2="169.40" stroke="#000" stroke-width="1.2"/>
<text x="362.00" y="173.10" font-size="6.8" font-weight="bold" font-style="normal" text-anchor="end" fill="#000" stroke="#000" stroke-width="0.28" textLength="3.0" lengthAdjust="spacingAndGlyphs">0</text>
<line x1="363.00" y1="184.45" x2="366.60" y2="184.45" stroke="#000" stroke-width="1.2"/>
<text x="362.00" y="188.15" font-size="6.8" font-weight="bold" font-style="normal" text-anchor="end" fill="#000" stroke="#000" stroke-width="0.28" textLength="7.0" lengthAdjust="spacingAndGlyphs">50</text>
<line x1="363.00" y1="199.50" x2="366.60" y2="199.50" stroke="#000" stroke-width="1.2"/>
<text x="362.00" y="203.20" font-size="6.8" font-weight="bold" font-style="normal" text-anchor="end" fill="#000" stroke="#000" stroke-width="0.28" textLength="10.4" lengthAdjust="spacingAndGlyphs">100</text>
<text x="370.80" y="208.50" font-size="9.9" font-weight="bold" font-style="normal" text-anchor="start" fill="#000" stroke="#000" stroke-width="0.28" textLength="25.2" lengthAdjust="spacingAndGlyphs">c-MYC</text>
<rect x="368.30" y="212.90" width="7.40" height="1.50" fill="#7c7c7c" stroke="#000" stroke-width="0.9"/>
<rect x="379.06" y="212.90" width="7.40" height="1.50" fill="#7c7c7c" stroke="#000" stroke-width="0.9"/>
<rect x="389.82" y="212.90" width="7.40" height="7.52" fill="#7c7c7c" stroke="#000" stroke-width="0.9"/>
<rect x="400.58" y="212.90" width="7.40" height="30.10" fill="#7c7c7c" stroke="#000" stroke-width="0.9"/>
<rect x="411.34" y="212.90" width="7.40" height="30.10" fill="#7c7c7c" stroke="#000" stroke-width="0.9"/>
<rect x="422.10" y="212.90" width="7.40" height="34.31" fill="#7c7c7c" stroke="#000" stroke-width="0.9"/>
<rect x="432.86" y="212.90" width="7.40" height="31.61" fill="#7c7c7c" stroke="#000" stroke-width="0.9"/>
<rect x="443.62" y="212.90" width="7.40" height="25.28" fill="#7c7c7c" stroke="#000" stroke-width="0.9"/>
<rect x="454.38" y="212.90" width="7.40" height="15.65" fill="#7c7c7c" stroke="#000" stroke-width="0.9"/>
<rect x="465.14" y="212.90" width="7.40" height="18.06" fill="#7c7c7c" stroke="#000" stroke-width="0.9"/>
<rect x="475.90" y="212.90" width="7.40" height="19.56" fill="#7c7c7c" stroke="#000" stroke-width="0.9"/>
<rect x="486.66" y="212.90" width="7.40" height="12.64" fill="#7c7c7c" stroke="#000" stroke-width="0.9"/>
<rect x="497.42" y="212.90" width="7.40" height="3.91" fill="#7c7c7c" stroke="#000" stroke-width="0.9"/>
<rect x="508.18" y="212.90" width="7.40" height="1.50" fill="#7c7c7c" stroke="#000" stroke-width="0.9"/>
<line x1="363.20" y1="212.90" x2="517.50" y2="212.90" stroke="#000" stroke-width="1.4"/>
<line x1="366.60" y1="212.90" x2="366.60" y2="243.00" stroke="#000" stroke-width="1.3"/>
<line x1="363.00" y1="212.90" x2="366.60" y2="212.90" stroke="#000" stroke-width="1.2"/>
<text x="362.00" y="216.60" font-size="6.8" font-weight="bold" font-style="normal" text-anchor="end" fill="#000" stroke="#000" stroke-width="0.28" textLength="3.0" lengthAdjust="spacingAndGlyphs">0</text>
<line x1="363.00" y1="227.95" x2="366.60" y2="227.95" stroke="#000" stroke-width="1.2"/>
<text x="362.00" y="231.65" font-size="6.8" font-weight="bold" font-style="normal" text-anchor="end" fill="#000" stroke="#000" stroke-width="0.28" textLength="7.0" lengthAdjust="spacingAndGlyphs">50</text>
<line x1="363.00" y1="243.00" x2="366.60" y2="243.00" stroke="#000" stroke-width="1.2"/>
<text x="362.00" y="246.70" font-size="6.8" font-weight="bold" font-style="normal" text-anchor="end" fill="#000" stroke="#000" stroke-width="0.28" textLength="10.4" lengthAdjust="spacingAndGlyphs">100</text>
<text x="370.80" y="247.20" font-size="9.9" font-weight="bold" font-style="normal" text-anchor="start" fill="#000" stroke="#000" stroke-width="0.28" textLength="25.2" lengthAdjust="spacingAndGlyphs">BCL-X</text>
<path d="M353.4,121.5 H349.6 V250.8 H353.9" stroke="#000" stroke-width="1.3" fill="none"/>
<text x="346.20" y="221.00" font-size="8.0" font-weight="normal" font-style="normal" text-anchor="start" fill="#000" stroke="#000" stroke-width="0.18" textLength="78.4" lengthAdjust="spacingAndGlyphs" transform="rotate(-90 346.20 221.00)">Relative expression (%)</text>
<text x="-0.70" y="184.30" font-size="12.2" font-weight="bold" font-style="normal" text-anchor="start" fill="#000" stroke="#000" stroke-width="0.28">D</text>
<text x="37.50" y="192.20" font-size="9.0" font-weight="bold" font-style="normal" text-anchor="start" fill="#000" stroke="#000" stroke-width="0.28" textLength="15.0" lengthAdjust="spacingAndGlyphs">Con</text>
<text x="71.30" y="182.60" font-size="8.6" font-weight="bold" font-style="italic" text-anchor="start" fill="#000" stroke="#000" stroke-width="0.28" textLength="46.2" lengthAdjust="spacingAndGlyphs">BCR-ABL1/</text>
<text x="86.30" y="192.20" font-size="8.6" font-weight="bold" font-style="italic" text-anchor="start" fill="#000" stroke="#000" stroke-width="0.28" textLength="16.2" lengthAdjust="spacingAndGlyphs">GFP</text>
<text x="134.80" y="182.60" font-size="8.6" font-weight="bold" font-style="italic" text-anchor="start" fill="#000" stroke="#000" stroke-width="0.28" textLength="45.8" lengthAdjust="spacingAndGlyphs">BCR-ABL1/</text>
<text x="140.20" y="192.20" font-size="8.6" font-weight="bold" font-style="italic" text-anchor="start" fill="#000" stroke="#000" stroke-width="0.28" textLength="32.3" lengthAdjust="spacingAndGlyphs">IKK&#945;KM</text>
<text x="194.00" y="182.60" font-size="8.6" font-weight="bold" font-style="italic" text-anchor="start" fill="#000" stroke="#000" stroke-width="0.28" textLength="45.8" lengthAdjust="spacingAndGlyphs">BCR-ABL1/</text>
<text x="198.00" y="192.20" font-size="8.6" font-weight="bold" font-style="italic" text-anchor="start" fill="#000" stroke="#000" stroke-width="0.28" textLength="32.4" lengthAdjust="spacingAndGlyphs">IKK&#946;KM</text>
<path d="M36.3,197.5 V194.3 H55.2 V197.5" stroke="#000" stroke-width="1.2" fill="none"/>
<path d="M56.6,197.5 V194.3 H127.5 V197.5" stroke="#000" stroke-width="1.2" fill="none"/>
<path d="M128.6,197.5 V194.3 H192.7 V197.5" stroke="#000" stroke-width="1.2" fill="none"/>
<path d="M194.0,197.5 V194.3 H246.5 V197.5" stroke="#000" stroke-width="1.2" fill="none"/>
<text x="41.70" y="201.60" font-size="5.8" font-weight="bold" font-style="normal" text-anchor="middle" fill="#000" stroke="#000" stroke-width="0.1">1</text>
<text x="50.84" y="201.60" font-size="5.8" font-weight="bold" font-style="normal" text-anchor="middle" fill="#000" stroke="#000" stroke-width="0.1">2</text>
<text x="59.98" y="201.60" font-size="5.8" font-weight="bold" font-style="normal" text-anchor="middle" fill="#000" stroke="#000" stroke-width="0.1">3</text>
<text x="69.12" y="201.60" font-size="5.8" font-weight="bold" font-style="normal" text-anchor="middle" fill="#000" stroke="#000" stroke-width="0.1">4</text>
<text x="78.26" y="201.60" font-size="5.8" font-weight="bold" font-style="normal" text-anchor="middle" fill="#000" stroke="#000" stroke-width="0.1">5</text>
<text x="87.40" y="201.60" font-size="5.8" font-weight="bold" font-style="normal" text-anchor="middle" fill="#000" stroke="#000" stroke-width="0.1">6</text>
<text x="96.54" y="201.60" font-size="5.8" font-weight="bold" font-style="normal" text-anchor="middle" fill="#000" stroke="#000" stroke-width="0.1">7</text>
<text x="105.68" y="201.60" font-size="5.8" font-weight="bold" font-style="normal" text-anchor="middle" fill="#000" stroke="#000" stroke-width="0.1">8</text>
<text x="114.82" y="201.60" font-size="5.8" font-weight="bold" font-style="normal" text-anchor="middle" fill="#000" stroke="#000" stroke-width="0.1">9</text>
<text x="123.96" y="201.60" font-size="5.8" font-weight="bold" font-style="normal" text-anchor="middle" fill="#000" stroke="#000" stroke-width="0.1">10</text>
<text x="133.10" y="201.60" font-size="5.8" font-weight="bold" font-style="normal" text-anchor="middle" fill="#000" stroke="#000" stroke-width="0.1">11</text>
<text x="142.24" y="201.60" font-size="5.8" font-weight="bold" font-style="normal" text-anchor="middle" fill="#000" stroke="#000" stroke-width="0.1">12</text>
<text x="151.38" y="201.60" font-size="5.8" font-weight="bold" font-style="normal" text-anchor="middle" fill="#000" stroke="#000" stroke-width="0.1">13</text>
<text x="160.52" y="201.60" font-size="5.8" font-weight="bold" font-style="normal" text-anchor="middle" fill="#000" stroke="#000" stroke-width="0.1">14</text>
<text x="169.66" y="201.60" font-size="5.8" font-weight="bold" font-style="normal" text-anchor="middle" fill="#000" stroke="#000" stroke-width="0.1">15</text>
<text x="178.80" y="201.60" font-size="5.8" font-weight="bold" font-style="normal" text-anchor="middle" fill="#000" stroke="#000" stroke-width="0.1">16</text>
<text x="187.94" y="201.60" font-size="5.8" font-weight="bold" font-style="normal" text-anchor="middle" fill="#000" stroke="#000" stroke-width="0.1">17</text>
<text x="197.08" y="201.60" font-size="5.8" font-weight="bold" font-style="normal" text-anchor="middle" fill="#000" stroke="#000" stroke-width="0.1">18</text>
<text x="206.22" y="201.60" font-size="5.8" font-weight="bold" font-style="normal" text-anchor="middle" fill="#000" stroke="#000" stroke-width="0.1">19</text>
<text x="215.36" y="201.60" font-size="5.8" font-weight="bold" font-style="normal" text-anchor="middle" fill="#000" stroke="#000" stroke-width="0.1">20</text>
<text x="224.50" y="201.60" font-size="5.8" font-weight="bold" font-style="normal" text-anchor="middle" fill="#000" stroke="#000" stroke-width="0.1">21</text>
<text x="233.64" y="201.60" font-size="5.8" font-weight="bold" font-style="normal" text-anchor="middle" fill="#000" stroke="#000" stroke-width="0.1">22</text>
<text x="242.78" y="201.60" font-size="5.8" font-weight="bold" font-style="normal" text-anchor="middle" fill="#000" stroke="#000" stroke-width="0.1">23</text>
<linearGradient id="gg" x1="0" y1="0" x2="0" y2="1"><stop offset="0" stop-color="#ececec"/><stop offset="0.5" stop-color="#e2e2e2"/><stop offset="1" stop-color="#d8d8d8"/></linearGradient>
<rect x="35.40" y="202.40" width="211.40" height="86.60" fill="url(#gg)"/>
<rect x="35.40" y="289.00" width="211.40" height="7.60" fill="#e9e9e9"/>
<rect x="37.50" y="203.40" width="7.80" height="93.20" fill="#000" opacity="0.04" filter="url(#b8)"/>
<rect x="46.64" y="203.40" width="7.80" height="93.20" fill="#000" opacity="0.04" filter="url(#b8)"/>
<rect x="55.78" y="203.40" width="7.80" height="93.20" fill="#000" opacity="0.04" filter="url(#b8)"/>
<rect x="64.92" y="203.40" width="7.80" height="93.20" fill="#000" opacity="0.04" filter="url(#b8)"/>
<rect x="74.06" y="203.40" width="7.80" height="93.20" fill="#000" opacity="0.04" filter="url(#b8)"/>
<rect x="83.20" y="203.40" width="7.80" height="93.20" fill="#000" opacity="0.04" filter="url(#b8)"/>
<rect x="92.34" y="203.40" width="7.80" height="93.20" fill="#000" opacity="0.04" filter="url(#b8)"/>
<rect x="101.48" y="203.40" width="7.80" height="93.20" fill="#000" opacity="0.04" filter="url(#b8)"/>
<rect x="110.62" y="203.40" width="7.80" height="93.20" fill="#000" opacity="0.04" filter="url(#b8)"/>
<rect x="119.76" y="203.40" width="7.80" height="93.20" fill="#000" opacity="0.04" filter="url(#b8)"/>
<rect x="128.90" y="203.40" width="7.80" height="93.20" fill="#000" opacity="0.04" filter="url(#b8)"/>
<rect x="138.04" y="203.40" width="7.80" height="93.20" fill="#000" opacity="0.04" filter="url(#b8)"/>
<rect x="147.18" y="203.40" width="7.80" height="93.20" fill="#000" opacity="0.04" filter="url(#b8)"/>
<rect x="156.32" y="203.40" width="7.80" height="93.20" fill="#000" opacity="0.04" filter="url(#b8)"/>
<rect x="165.46" y="203.40" width="7.80" height="93.20" fill="#000" opacity="0.04" filter="url(#b8)"/>
<rect x="174.60" y="203.40" width="7.80" height="93.20" fill="#000" opacity="0.04" filter="url(#b8)"/>
<rect x="183.74" y="203.40" width="7.80" height="93.20" fill="#000" opacity="0.04" filter="url(#b8)"/>
<rect x="192.88" y="203.40" width="7.80" height="93.20" fill="#000" opacity="0.04" filter="url(#b8)"/>
<rect x="202.02" y="203.40" width="7.80" height="93.20" fill="#000" opacity="0.04" filter="url(#b8)"/>
<rect x="211.16" y="203.40" width="7.80" height="93.20" fill="#000" opacity="0.04" filter="url(#b8)"/>
<rect x="220.30" y="203.40" width="7.80" height="93.20" fill="#000" opacity="0.04" filter="url(#b8)"/>
<rect x="229.44" y="203.40" width="7.80" height="93.20" fill="#000" opacity="0.04" filter="url(#b8)"/>
<rect x="238.58" y="203.40" width="7.80" height="93.20" fill="#000" opacity="0.04" filter="url(#b8)"/>
<rect x="45.50" y="202.40" width="1.10" height="94.20" fill="#f2f2f2" opacity="0.4" filter="url(#b5)"/>
<rect x="54.64" y="202.40" width="1.10" height="94.20" fill="#f2f2f2" opacity="0.4" filter="url(#b5)"/>
<rect x="63.78" y="202.40" width="1.10" height="94.20" fill="#f2f2f2" opacity="0.4" filter="url(#b5)"/>
<rect x="72.92" y="202.40" width="1.10" height="94.20" fill="#f2f2f2" opacity="0.4" filter="url(#b5)"/>
<rect x="82.06" y="202.40" width="1.10" height="94.20" fill="#f2f2f2" opacity="0.4" filter="url(#b5)"/>
<rect x="91.20" y="202.40" width="1.10" height="94.20" fill="#f2f2f2" opacity="0.4" filter="url(#b5)"/>
<rect x="100.34" y="202.40" width="1.10" height="94.20" fill="#f2f2f2" opacity="0.4" filter="url(#b5)"/>
<rect x="109.48" y="202.40" width="1.10" height="94.20" fill="#f2f2f2" opacity="0.4" filter="url(#b5)"/>
<rect x="118.62" y="202.40" width="1.10" height="94.20" fill="#f2f2f2" opacity="0.4" filter="url(#b5)"/>
<rect x="127.76" y="202.40" width="1.10" height="94.20" fill="#f2f2f2" opacity="0.4" filter="url(#b5)"/>
<rect x="136.90" y="202.40" width="1.10" height="94.20" fill="#f2f2f2" opacity="0.4" filter="url(#b5)"/>
<rect x="146.04" y="202.40" width="1.10" height="94.20" fill="#f2f2f2" opacity="0.4" filter="url(#b5)"/>
<rect x="155.18" y="202.40" width="1.10" height="94.20" fill="#f2f2f2" opacity="0.4" filter="url(#b5)"/>
<rect x="164.32" y="202.40" width="1.10" height="94.20" fill="#f2f2f2" opacity="0.4" filter="url(#b5)"/>
<rect x="173.46" y="202.40" width="1.10" height="94.20" fill="#f2f2f2" opacity="0.4" filter="url(#b5)"/>
<rect x="182.60" y="202.40" width="1.10" height="94.20" fill="#f2f2f2" opacity="0.4" filter="url(#b5)"/>
<rect x="191.74" y="202.40" width="1.10" height="94.20" fill="#f2f2f2" opacity="0.4" filter="url(#b5)"/>
<rect x="200.88" y="202.40" width="1.10" height="94.20" fill="#f2f2f2" opacity="0.4" filter="url(#b5)"/>
<rect x="210.02" y="202.40" width="1.10" height="94.20" fill="#f2f2f2" opacity="0.4" filter="url(#b5)"/>
<rect x="219.16" y="202.40" width="1.10" height="94.20" fill="#f2f2f2" opacity="0.4" filter="url(#b5)"/>
<rect x="228.30" y="202.40" width="1.10" height="94.20" fill="#f2f2f2" opacity="0.4" filter="url(#b5)"/>
<rect x="237.44" y="202.40" width="1.10" height="94.20" fill="#f2f2f2" opacity="0.4" filter="url(#b5)"/>
<rect x="246.58" y="202.40" width="1.10" height="94.20" fill="#f2f2f2" opacity="0.4" filter="url(#b5)"/>
<rect x="35.40" y="202.40" width="1.80" height="86.60" fill="#c4c4c4"/>
<line x1="30.60" y1="217.00" x2="34.80" y2="217.00" stroke="#000" stroke-width="1.2"/>
<text x="29.00" y="219.80" font-size="7.6" font-weight="bold" font-style="normal" text-anchor="end" fill="#000" stroke="#000" stroke-width="0.28">10</text>
<line x1="30.60" y1="227.30" x2="34.80" y2="227.30" stroke="#000" stroke-width="1.2"/>
<text x="29.00" y="230.10" font-size="7.6" font-weight="bold" font-style="normal" text-anchor="end" fill="#000" stroke="#000" stroke-width="0.28">8</text>
<line x1="30.60" y1="243.60" x2="34.80" y2="243.60" stroke="#000" stroke-width="1.2"/>
<text x="29.00" y="246.40" font-size="7.6" font-weight="bold" font-style="normal" text-anchor="end" fill="#000" stroke="#000" stroke-width="0.28">6</text>
<line x1="30.60" y1="256.00" x2="34.80" y2="256.00" stroke="#000" stroke-width="1.2"/>
<text x="29.00" y="258.80" font-size="7.6" font-weight="bold" font-style="normal" text-anchor="end" fill="#000" stroke="#000" stroke-width="0.28">5</text>
<clipPath id="cd"><rect x="35.4" y="202.4" width="211.4" height="86.6"/></clipPath><g clip-path="url(#cd)">
<linearGradient id="sm1" x1="0" y1="0" x2="0" y2="1"><stop offset="0" stop-color="#8c8c8c" stop-opacity="0"/><stop offset="0.25" stop-color="#8c8c8c" stop-opacity="0.8"/><stop offset="1" stop-color="#909090" stop-opacity="0.7"/></linearGradient>
<rect x="35.40" y="236.00" width="2.60" height="55.00" fill="url(#sm1)" filter="url(#b6)"/>
<rect x="36.30" y="279.88" width="9.00" height="7.44" rx="2.50" fill="rgb(5,5,5)" filter="url(#b10)"/>
<rect x="34.50" y="258.60" width="3.80" height="6.00" rx="2.50" fill="rgb(35,35,35)" filter="url(#b9)"/>
<rect x="34.75" y="274.30" width="4.50" height="6.00" rx="2.50" fill="rgb(23,23,23)" filter="url(#b9)"/>
<linearGradient id="sm2" x1="0" y1="0" x2="0" y2="1"><stop offset="0" stop-color="#7a7a7a" stop-opacity="0.75"/><stop offset="1" stop-color="#9a9a9a" stop-opacity="0.55"/></linearGradient>
<rect x="46.54" y="254.00" width="8.00" height="37.00" fill="url(#sm2)" filter="url(#b8)"/>
<rect x="45.94" y="250.50" width="9.20" height="6.00" rx="2.50" fill="rgb(7,7,7)" filter="url(#b9)"/>
<rect x="46.54" y="239.20" width="8.00" height="9.60" rx="2.50" fill="rgb(176,176,176)" filter="url(#b12)"/>
<linearGradient id="smr" x1="0" y1="0" x2="0" y2="1"><stop offset="0" stop-color="#000" stop-opacity="0.10"/><stop offset="1" stop-color="#000" stop-opacity="0.05"/></linearGradient>
<rect x="55.48" y="225.20" width="8.40" height="71.80" fill="url(#smr)" filter="url(#b10)"/>
<rect x="64.62" y="222.50" width="8.40" height="74.50" fill="url(#smr)" filter="url(#b10)"/>
<rect x="73.76" y="240.10" width="8.40" height="56.90" fill="url(#smr)" filter="url(#b10)"/>
<rect x="82.90" y="232.60" width="8.40" height="64.40" fill="url(#smr)" filter="url(#b10)"/>
<rect x="92.04" y="261.20" width="8.40" height="35.80" fill="url(#smr)" filter="url(#b10)"/>
<rect x="101.18" y="248.10" width="8.40" height="48.90" fill="url(#smr)" filter="url(#b10)"/>
<rect x="110.32" y="264.10" width="8.40" height="32.90" fill="url(#smr)" filter="url(#b10)"/>
<rect x="119.46" y="232.80" width="8.40" height="64.20" fill="url(#smr)" filter="url(#b10)"/>
<rect x="128.60" y="246.90" width="8.40" height="50.10" fill="url(#smr)" filter="url(#b10)"/>
<rect x="137.74" y="240.70" width="8.40" height="56.30" fill="url(#smr)" filter="url(#b10)"/>
<rect x="146.88" y="229.20" width="8.40" height="67.80" fill="url(#smr)" filter="url(#b10)"/>
<rect x="156.02" y="255.70" width="8.40" height="41.30" fill="url(#smr)" filter="url(#b10)"/>
<rect x="165.16" y="249.90" width="8.40" height="47.10" fill="url(#smr)" filter="url(#b10)"/>
<rect x="174.30" y="248.30" width="8.40" height="48.70" fill="url(#smr)" filter="url(#b10)"/>
<rect x="183.44" y="251.80" width="8.40" height="45.20" fill="url(#smr)" filter="url(#b10)"/>
<rect x="192.58" y="244.20" width="8.40" height="52.80" fill="url(#smr)" filter="url(#b10)"/>
<rect x="201.72" y="232.60" width="8.40" height="64.40" fill="url(#smr)" filter="url(#b10)"/>
<rect x="210.86" y="246.50" width="8.40" height="50.50" fill="url(#smr)" filter="url(#b10)"/>
<rect x="220.00" y="246.50" width="8.40" height="50.50" fill="url(#smr)" filter="url(#b10)"/>
<rect x="229.14" y="218.80" width="8.40" height="78.20" fill="url(#smr)" filter="url(#b10)"/>
<rect x="238.28" y="222.20" width="8.40" height="74.80" fill="url(#smr)" filter="url(#b10)"/>
<rect x="54.78" y="224.68" width="9.80" height="5.04" rx="2.50" fill="rgb(168,168,168)" filter="url(#b12)"/>
<rect x="54.78" y="233.60" width="9.80" height="4.80" rx="2.40" fill="rgb(174,174,174)" filter="url(#b12)"/>
<rect x="54.78" y="239.88" width="9.80" height="7.44" rx="2.50" fill="rgb(160,160,160)" filter="url(#b12)"/>
<rect x="54.78" y="246.48" width="9.80" height="7.44" rx="2.50" fill="rgb(160,160,160)" filter="url(#b12)"/>
<rect x="54.78" y="256.32" width="9.80" height="5.76" rx="2.50" fill="rgb(168,168,168)" filter="url(#b12)"/>
<rect x="54.78" y="266.66" width="9.80" height="5.28" rx="2.50" fill="rgb(181,181,181)" filter="url(#b12)"/>
<rect x="63.92" y="221.26" width="9.80" height="6.48" rx="2.50" fill="rgb(159,159,159)" filter="url(#b12)"/>
<rect x="63.92" y="232.80" width="9.80" height="4.80" rx="2.40" fill="rgb(191,191,191)" filter="url(#b12)"/>
<rect x="63.92" y="243.96" width="9.80" height="5.28" rx="2.50" fill="rgb(184,184,184)" filter="url(#b12)"/>
<rect x="63.92" y="249.72" width="9.80" height="4.56" rx="2.28" fill="rgb(198,198,198)" filter="url(#b12)"/>
<rect x="63.92" y="256.36" width="9.80" height="5.28" rx="2.50" fill="rgb(178,178,178)" filter="url(#b12)"/>
<rect x="63.92" y="259.26" width="9.80" height="5.28" rx="2.50" fill="rgb(171,171,171)" filter="url(#b12)"/>
<rect x="63.92" y="268.44" width="9.80" height="7.92" rx="2.50" fill="rgb(159,159,159)" filter="url(#b12)"/>
<rect x="73.06" y="238.14" width="9.80" height="7.92" rx="2.50" fill="rgb(159,159,159)" filter="url(#b12)"/>
<rect x="73.06" y="247.28" width="9.80" height="7.44" rx="2.50" fill="rgb(161,161,161)" filter="url(#b12)"/>
<rect x="73.06" y="260.48" width="9.80" height="5.04" rx="2.50" fill="rgb(184,184,184)" filter="url(#b12)"/>
<rect x="73.06" y="264.40" width="9.80" height="4.80" rx="2.40" fill="rgb(195,195,195)" filter="url(#b12)"/>
<rect x="82.20" y="230.04" width="9.80" height="9.12" rx="2.50" fill="rgb(159,159,159)" filter="url(#b12)"/>
<rect x="82.20" y="238.50" width="9.80" height="4.80" rx="2.40" fill="rgb(188,188,188)" filter="url(#b12)"/>
<rect x="82.20" y="252.76" width="9.80" height="5.28" rx="2.50" fill="rgb(178,178,178)" filter="url(#b12)"/>
<rect x="82.20" y="256.68" width="9.80" height="5.04" rx="2.50" fill="rgb(184,184,184)" filter="url(#b12)"/>
<rect x="82.20" y="267.68" width="9.80" height="5.04" rx="2.50" fill="rgb(178,178,178)" filter="url(#b12)"/>
<rect x="82.20" y="271.28" width="9.80" height="5.04" rx="2.50" fill="rgb(178,178,178)" filter="url(#b12)"/>
<rect x="91.34" y="228.50" width="9.80" height="4.80" rx="2.40" fill="rgb(191,191,191)" filter="url(#b12)"/>
<rect x="91.34" y="232.28" width="9.80" height="5.04" rx="2.50" fill="rgb(183,183,183)" filter="url(#b12)"/>
<rect x="91.34" y="256.26" width="9.80" height="5.28" rx="2.50" fill="rgb(178,178,178)" filter="url(#b12)"/>
<rect x="91.34" y="259.96" width="9.80" height="6.48" rx="2.50" fill="rgb(163,163,163)" filter="url(#b12)"/>
<rect x="91.34" y="267.72" width="9.80" height="6.96" rx="2.50" fill="rgb(160,160,160)" filter="url(#b12)"/>
<rect x="100.48" y="241.20" width="9.80" height="4.80" rx="2.40" fill="rgb(205,205,205)" filter="url(#b12)"/>
<rect x="100.48" y="246.50" width="9.80" height="7.20" rx="2.50" fill="rgb(161,161,161)" filter="url(#b12)"/>
<rect x="100.48" y="258.94" width="9.80" height="7.92" rx="2.50" fill="rgb(159,159,159)" filter="url(#b12)"/>
<rect x="100.48" y="269.60" width="9.80" height="4.80" rx="2.40" fill="rgb(201,201,201)" filter="url(#b12)"/>
<rect x="109.62" y="220.10" width="9.80" height="4.80" rx="2.40" fill="rgb(198,198,198)" filter="url(#b12)"/>
<rect x="109.62" y="226.24" width="9.80" height="5.52" rx="2.50" fill="rgb(178,178,178)" filter="url(#b12)"/>
<rect x="109.62" y="245.94" width="9.80" height="5.52" rx="2.50" fill="rgb(171,171,171)" filter="url(#b12)"/>
<rect x="109.62" y="261.90" width="9.80" height="8.40" rx="2.50" fill="rgb(159,159,159)" filter="url(#b12)"/>
<rect x="118.76" y="213.38" width="9.80" height="5.04" rx="2.50" fill="rgb(183,183,183)" filter="url(#b12)"/>
<rect x="118.76" y="231.80" width="9.80" height="6.00" rx="2.50" fill="rgb(166,166,166)" filter="url(#b12)"/>
<rect x="118.76" y="242.04" width="9.80" height="7.92" rx="2.50" fill="rgb(159,159,159)" filter="url(#b12)"/>
<rect x="118.76" y="257.90" width="9.80" height="4.80" rx="2.40" fill="rgb(184,184,184)" filter="url(#b12)"/>
<rect x="118.76" y="260.80" width="9.80" height="4.80" rx="2.40" fill="rgb(184,184,184)" filter="url(#b12)"/>
<rect x="118.76" y="270.18" width="9.80" height="5.04" rx="2.50" fill="rgb(178,178,178)" filter="url(#b12)"/>
<rect x="127.90" y="244.70" width="9.80" height="8.40" rx="2.50" fill="rgb(159,159,159)" filter="url(#b12)"/>
<rect x="137.04" y="238.26" width="9.80" height="8.88" rx="2.50" fill="rgb(159,159,159)" filter="url(#b12)"/>
<rect x="146.18" y="227.00" width="9.80" height="8.40" rx="2.50" fill="rgb(159,159,159)" filter="url(#b12)"/>
<rect x="155.32" y="253.26" width="9.80" height="8.88" rx="2.50" fill="rgb(159,159,159)" filter="url(#b12)"/>
<rect x="164.46" y="247.94" width="9.80" height="7.92" rx="2.50" fill="rgb(160,160,160)" filter="url(#b12)"/>
<rect x="173.60" y="246.34" width="9.80" height="7.92" rx="2.50" fill="rgb(160,160,160)" filter="url(#b12)"/>
<rect x="173.60" y="219.60" width="9.80" height="4.80" rx="2.40" fill="rgb(213,213,213)" filter="url(#b12)"/>
<rect x="182.74" y="249.84" width="9.80" height="7.92" rx="2.50" fill="rgb(160,160,160)" filter="url(#b12)"/>
<rect x="191.88" y="207.18" width="9.80" height="5.04" rx="2.50" fill="rgb(191,191,191)" filter="url(#b12)"/>
<rect x="191.88" y="242.24" width="9.80" height="7.92" rx="2.50" fill="rgb(160,160,160)" filter="url(#b12)"/>
<rect x="191.88" y="253.10" width="9.80" height="6.00" rx="2.50" fill="rgb(168,168,168)" filter="url(#b12)"/>
<rect x="201.02" y="229.92" width="9.80" height="9.36" rx="2.50" fill="rgb(159,159,159)" filter="url(#b12)"/>
<rect x="210.16" y="233.28" width="9.80" height="5.04" rx="2.50" fill="rgb(184,184,184)" filter="url(#b12)"/>
<rect x="210.16" y="244.78" width="9.80" height="7.44" rx="2.50" fill="rgb(160,160,160)" filter="url(#b12)"/>
<rect x="210.16" y="250.80" width="9.80" height="6.00" rx="2.50" fill="rgb(166,166,166)" filter="url(#b12)"/>
<rect x="219.30" y="233.28" width="9.80" height="5.04" rx="2.50" fill="rgb(188,188,188)" filter="url(#b12)"/>
<rect x="219.30" y="244.78" width="9.80" height="7.44" rx="2.50" fill="rgb(160,160,160)" filter="url(#b12)"/>
<rect x="228.44" y="217.68" width="9.80" height="6.24" rx="2.50" fill="rgb(164,164,164)" filter="url(#b12)"/>
<rect x="228.44" y="247.94" width="9.80" height="7.92" rx="2.50" fill="rgb(160,160,160)" filter="url(#b12)"/>
<rect x="237.58" y="221.32" width="9.80" height="5.76" rx="2.50" fill="rgb(166,166,166)" filter="url(#b12)"/>
<rect x="237.58" y="238.98" width="9.80" height="7.44" rx="2.50" fill="rgb(160,160,160)" filter="url(#b12)"/>
<rect x="237.58" y="250.62" width="9.80" height="5.76" rx="2.50" fill="rgb(166,166,166)" filter="url(#b12)"/>
<rect x="54.98" y="225.64" width="9.40" height="3.12" rx="1.56" fill="rgb(34,34,34)" filter="url(#b9)"/>
<rect x="54.98" y="234.56" width="9.40" height="2.88" rx="1.44" fill="rgb(56,56,56)" filter="url(#b9)"/>
<rect x="54.98" y="240.84" width="9.40" height="5.52" rx="2.50" fill="rgb(7,7,7)" filter="url(#b9)"/>
<rect x="54.98" y="247.44" width="9.40" height="5.52" rx="2.50" fill="rgb(7,7,7)" filter="url(#b9)"/>
<rect x="54.98" y="257.28" width="9.40" height="3.84" rx="1.92" fill="rgb(34,34,34)" filter="url(#b9)"/>
<rect x="54.98" y="267.62" width="9.40" height="3.36" rx="1.68" fill="rgb(79,79,79)" filter="url(#b9)"/>
<rect x="64.12" y="222.22" width="9.40" height="4.56" rx="2.28" fill="rgb(5,5,5)" filter="url(#b9)"/>
<rect x="64.12" y="233.76" width="9.40" height="2.88" rx="1.44" fill="rgb(112,112,112)" filter="url(#b9)"/>
<rect x="64.12" y="244.92" width="9.40" height="3.36" rx="1.68" fill="rgb(90,90,90)" filter="url(#b9)"/>
<rect x="64.12" y="250.68" width="9.40" height="2.64" rx="1.32" fill="rgb(135,135,135)" filter="url(#b9)"/>
<rect x="64.12" y="257.32" width="9.40" height="3.36" rx="1.68" fill="rgb(68,68,68)" filter="url(#b9)"/>
<rect x="64.12" y="260.22" width="9.40" height="3.36" rx="1.68" fill="rgb(45,45,45)" filter="url(#b9)"/>
<rect x="64.12" y="269.40" width="9.40" height="6.00" rx="2.50" fill="rgb(5,5,5)" filter="url(#b9)"/>
<rect x="73.26" y="239.10" width="9.40" height="6.00" rx="2.50" fill="rgb(5,5,5)" filter="url(#b9)"/>
<rect x="73.26" y="248.24" width="9.40" height="5.52" rx="2.50" fill="rgb(11,11,11)" filter="url(#b9)"/>
<rect x="73.26" y="261.44" width="9.40" height="3.12" rx="1.56" fill="rgb(90,90,90)" filter="url(#b9)"/>
<rect x="73.26" y="265.36" width="9.40" height="2.88" rx="1.44" fill="rgb(124,124,124)" filter="url(#b9)"/>
<rect x="82.40" y="231.00" width="9.40" height="7.20" rx="2.50" fill="rgb(5,5,5)" filter="url(#b9)"/>
<rect x="82.40" y="239.46" width="9.40" height="2.88" rx="1.44" fill="rgb(101,101,101)" filter="url(#b9)"/>
<rect x="82.40" y="253.72" width="9.40" height="3.36" rx="1.68" fill="rgb(68,68,68)" filter="url(#b9)"/>
<rect x="82.40" y="257.64" width="9.40" height="3.12" rx="1.56" fill="rgb(90,90,90)" filter="url(#b9)"/>
<rect x="82.40" y="268.64" width="9.40" height="3.12" rx="1.56" fill="rgb(68,68,68)" filter="url(#b9)"/>
<rect x="82.40" y="272.24" width="9.40" height="3.12" rx="1.56" fill="rgb(68,68,68)" filter="url(#b9)"/>
<rect x="91.54" y="229.46" width="9.40" height="2.88" rx="1.44" fill="rgb(112,112,112)" filter="url(#b9)"/>
<rect x="91.54" y="233.24" width="9.40" height="3.12" rx="1.56" fill="rgb(86,86,86)" filter="url(#b9)"/>
<rect x="91.54" y="257.22" width="9.40" height="3.36" rx="1.68" fill="rgb(68,68,68)" filter="url(#b9)"/>
<rect x="91.54" y="260.92" width="9.40" height="4.56" rx="2.28" fill="rgb(18,18,18)" filter="url(#b9)"/>
<rect x="91.54" y="268.68" width="9.40" height="5.04" rx="2.50" fill="rgb(7,7,7)" filter="url(#b9)"/>
<rect x="100.68" y="242.16" width="9.40" height="2.88" rx="1.44" fill="rgb(158,158,158)" filter="url(#b9)"/>
<rect x="100.68" y="247.46" width="9.40" height="5.28" rx="2.50" fill="rgb(11,11,11)" filter="url(#b9)"/>
<rect x="100.68" y="259.90" width="9.40" height="6.00" rx="2.50" fill="rgb(5,5,5)" filter="url(#b9)"/>
<rect x="100.68" y="270.56" width="9.40" height="2.88" rx="1.44" fill="rgb(146,146,146)" filter="url(#b9)"/>
<rect x="109.82" y="221.06" width="9.40" height="2.88" rx="1.44" fill="rgb(135,135,135)" filter="url(#b9)"/>
<rect x="109.82" y="227.20" width="9.40" height="3.60" rx="1.80" fill="rgb(68,68,68)" filter="url(#b9)"/>
<rect x="109.82" y="246.90" width="9.40" height="3.60" rx="1.80" fill="rgb(45,45,45)" filter="url(#b9)"/>
<rect x="109.82" y="262.86" width="9.40" height="6.48" rx="2.50" fill="rgb(5,5,5)" filter="url(#b9)"/>
<rect x="118.96" y="214.34" width="9.40" height="3.12" rx="1.56" fill="rgb(86,86,86)" filter="url(#b9)"/>
<rect x="118.96" y="232.76" width="9.40" height="4.08" rx="2.04" fill="rgb(27,27,27)" filter="url(#b9)"/>
<rect x="118.96" y="243.00" width="9.40" height="6.00" rx="2.50" fill="rgb(5,5,5)" filter="url(#b9)"/>
<rect x="118.96" y="258.86" width="9.40" height="2.88" rx="1.44" fill="rgb(90,90,90)" filter="url(#b9)"/>
<rect x="118.96" y="261.76" width="9.40" height="2.88" rx="1.44" fill="rgb(90,90,90)" filter="url(#b9)"/>
<rect x="118.96" y="271.14" width="9.40" height="3.12" rx="1.56" fill="rgb(68,68,68)" filter="url(#b9)"/>
<rect x="128.10" y="245.66" width="9.40" height="6.48" rx="2.50" fill="rgb(5,5,5)" filter="url(#b9)"/>
<rect x="137.24" y="239.22" width="9.40" height="6.96" rx="2.50" fill="rgb(5,5,5)" filter="url(#b9)"/>
<rect x="146.38" y="227.96" width="9.40" height="6.48" rx="2.50" fill="rgb(5,5,5)" filter="url(#b9)"/>
<rect x="155.52" y="254.22" width="9.40" height="6.96" rx="2.50" fill="rgb(5,5,5)" filter="url(#b9)"/>
<rect x="164.66" y="248.90" width="9.40" height="6.00" rx="2.50" fill="rgb(7,7,7)" filter="url(#b9)"/>
<rect x="173.80" y="247.30" width="9.40" height="6.00" rx="2.50" fill="rgb(7,7,7)" filter="url(#b9)"/>
<rect x="173.80" y="220.56" width="9.40" height="2.88" rx="1.44" fill="rgb(184,184,184)" filter="url(#b9)"/>
<rect x="182.94" y="250.80" width="9.40" height="6.00" rx="2.50" fill="rgb(7,7,7)" filter="url(#b9)"/>
<rect x="192.08" y="208.14" width="9.40" height="3.12" rx="1.56" fill="rgb(112,112,112)" filter="url(#b9)"/>
<rect x="192.08" y="243.20" width="9.40" height="6.00" rx="2.50" fill="rgb(7,7,7)" filter="url(#b9)"/>
<rect x="192.08" y="254.06" width="9.40" height="4.08" rx="2.04" fill="rgb(34,34,34)" filter="url(#b9)"/>
<rect x="201.22" y="230.88" width="9.40" height="7.44" rx="2.50" fill="rgb(5,5,5)" filter="url(#b9)"/>
<rect x="210.36" y="234.24" width="9.40" height="3.12" rx="1.56" fill="rgb(90,90,90)" filter="url(#b9)"/>
<rect x="210.36" y="245.74" width="9.40" height="5.52" rx="2.50" fill="rgb(7,7,7)" filter="url(#b9)"/>
<rect x="210.36" y="251.76" width="9.40" height="4.08" rx="2.04" fill="rgb(27,27,27)" filter="url(#b9)"/>
<rect x="219.50" y="234.24" width="9.40" height="3.12" rx="1.56" fill="rgb(101,101,101)" filter="url(#b9)"/>
<rect x="219.50" y="245.74" width="9.40" height="5.52" rx="2.50" fill="rgb(7,7,7)" filter="url(#b9)"/>
<rect x="228.64" y="218.64" width="9.40" height="4.32" rx="2.16" fill="rgb(22,22,22)" filter="url(#b9)"/>
<rect x="228.64" y="248.90" width="9.40" height="6.00" rx="2.50" fill="rgb(7,7,7)" filter="url(#b9)"/>
<rect x="237.78" y="222.28" width="9.40" height="3.84" rx="1.92" fill="rgb(27,27,27)" filter="url(#b9)"/>
<rect x="237.78" y="239.94" width="9.40" height="5.52" rx="2.50" fill="rgb(7,7,7)" filter="url(#b9)"/>
<rect x="237.78" y="251.58" width="9.40" height="3.84" rx="1.92" fill="rgb(27,27,27)" filter="url(#b9)"/>
<ellipse cx="59.68" cy="231.4" rx="4.0" ry="3.4" fill="#1a1a1a" filter="url(#b8)"/>
<ellipse cx="59.68" cy="231.8" rx="2.9" ry="2.3" fill="#fcfcfc" filter="url(#b6)"/>
<rect x="147.28" y="234.00" width="7.60" height="60.00" fill="#a0a0a0" opacity="0.22" filter="url(#b10)"/>
</g>
<text x="35.90" y="296.00" font-size="7.6" font-weight="bold" font-style="normal" text-anchor="start" fill="#000" stroke="#000" stroke-width="0.28" textLength="35.4" lengthAdjust="spacingAndGlyphs">probe: <tspan font-style="italic">IRES</tspan></text>
<rect x="35.40" y="297.00" width="211.40" height="8.20" fill="#d0d0d0"/>
<rect x="35.40" y="305.40" width="211.40" height="6.40" fill="#eeeeee"/>
<text x="35.90" y="311.80" font-size="7.6" font-weight="bold" font-style="normal" text-anchor="start" fill="#000" stroke="#000" stroke-width="0.28" textLength="37.5" lengthAdjust="spacingAndGlyphs">probe: <tspan font-style="italic">ABL1</tspan></text>
<rect x="35.40" y="311.40" width="211.40" height="9.80" fill="#d7d7d7"/>
<rect x="37.40" y="301.16" width="8.00" height="2.88" rx="1.44" fill="rgb(131,131,131)" filter="url(#b9)"/>
<rect x="37.40" y="315.32" width="8.00" height="3.36" rx="1.68" fill="rgb(101,101,101)" filter="url(#b9)"/>
<rect x="46.54" y="301.16" width="8.00" height="2.88" rx="1.44" fill="rgb(131,131,131)" filter="url(#b9)"/>
<rect x="46.54" y="315.32" width="8.00" height="3.36" rx="1.68" fill="rgb(101,101,101)" filter="url(#b9)"/>
<rect x="55.68" y="301.16" width="8.00" height="2.88" rx="1.44" fill="rgb(131,131,131)" filter="url(#b9)"/>
<rect x="55.68" y="315.32" width="8.00" height="3.36" rx="1.68" fill="rgb(101,101,101)" filter="url(#b9)"/>
<rect x="64.82" y="301.16" width="8.00" height="2.88" rx="1.44" fill="rgb(131,131,131)" filter="url(#b9)"/>
<rect x="64.82" y="315.32" width="8.00" height="3.36" rx="1.68" fill="rgb(101,101,101)" filter="url(#b9)"/>
<rect x="73.96" y="301.16" width="8.00" height="2.88" rx="1.44" fill="rgb(131,131,131)" filter="url(#b9)"/>
<rect x="73.96" y="315.32" width="8.00" height="3.36" rx="1.68" fill="rgb(101,101,101)" filter="url(#b9)"/>
<rect x="83.10" y="301.16" width="8.00" height="2.88" rx="1.44" fill="rgb(131,131,131)" filter="url(#b9)"/>
<rect x="83.10" y="315.32" width="8.00" height="3.36" rx="1.68" fill="rgb(101,101,101)" filter="url(#b9)"/>
<rect x="92.24" y="301.16" width="8.00" height="2.88" rx="1.44" fill="rgb(131,131,131)" filter="url(#b9)"/>
<rect x="92.24" y="315.32" width="8.00" height="3.36" rx="1.68" fill="rgb(101,101,101)" filter="url(#b9)"/>
<rect x="101.38" y="301.16" width="8.00" height="2.88" rx="1.44" fill="rgb(131,131,131)" filter="url(#b9)"/>
<rect x="101.38" y="315.32" width="8.00" height="3.36" rx="1.68" fill="rgb(101,101,101)" filter="url(#b9)"/>
<rect x="110.52" y="301.16" width="8.00" height="2.88" rx="1.44" fill="rgb(131,131,131)" filter="url(#b9)"/>
<rect x="110.52" y="315.32" width="8.00" height="3.36" rx="1.68" fill="rgb(101,101,101)" filter="url(#b9)"/>
<rect x="119.66" y="301.16" width="8.00" height="2.88" rx="1.44" fill="rgb(131,131,131)" filter="url(#b9)"/>
<rect x="119.66" y="315.32" width="8.00" height="3.36" rx="1.68" fill="rgb(101,101,101)" filter="url(#b9)"/>
<rect x="128.80" y="301.16" width="8.00" height="2.88" rx="1.44" fill="rgb(131,131,131)" filter="url(#b9)"/>
<rect x="128.80" y="315.32" width="8.00" height="3.36" rx="1.68" fill="rgb(101,101,101)" filter="url(#b9)"/>
<rect x="137.94" y="301.16" width="8.00" height="2.88" rx="1.44" fill="rgb(131,131,131)" filter="url(#b9)"/>
<rect x="137.94" y="315.32" width="8.00" height="3.36" rx="1.68" fill="rgb(101,101,101)" filter="url(#b9)"/>
<rect x="147.08" y="301.16" width="8.00" height="2.88" rx="1.44" fill="rgb(131,131,131)" filter="url(#b9)"/>
<rect x="147.08" y="315.32" width="8.00" height="3.36" rx="1.68" fill="rgb(101,101,101)" filter="url(#b9)"/>
<rect x="156.22" y="301.16" width="8.00" height="2.88" rx="1.44" fill="rgb(131,131,131)" filter="url(#b9)"/>
<rect x="156.22" y="315.32" width="8.00" height="3.36" rx="1.68" fill="rgb(101,101,101)" filter="url(#b9)"/>
<rect x="165.36" y="301.16" width="8.00" height="2.88" rx="1.44" fill="rgb(131,131,131)" filter="url(#b9)"/>
<rect x="165.36" y="315.32" width="8.00" height="3.36" rx="1.68" fill="rgb(101,101,101)" filter="url(#b9)"/>
<rect x="174.50" y="301.16" width="8.00" height="2.88" rx="1.44" fill="rgb(131,131,131)" filter="url(#b9)"/>
<rect x="174.50" y="315.32" width="8.00" height="3.36" rx="1.68" fill="rgb(101,101,101)" filter="url(#b9)"/>
<rect x="183.64" y="301.16" width="8.00" height="2.88" rx="1.44" fill="rgb(131,131,131)" filter="url(#b9)"/>
<rect x="183.64" y="315.32" width="8.00" height="3.36" rx="1.68" fill="rgb(101,101,101)" filter="url(#b9)"/>
<rect x="192.78" y="301.16" width="8.00" height="2.88" rx="1.44" fill="rgb(131,131,131)" filter="url(#b9)"/>
<rect x="192.78" y="315.32" width="8.00" height="3.36" rx="1.68" fill="rgb(101,101,101)" filter="url(#b9)"/>
<rect x="201.92" y="301.16" width="8.00" height="2.88" rx="1.44" fill="rgb(131,131,131)" filter="url(#b9)"/>
<rect x="201.92" y="315.32" width="8.00" height="3.36" rx="1.68" fill="rgb(101,101,101)" filter="url(#b9)"/>
<rect x="211.06" y="301.16" width="8.00" height="2.88" rx="1.44" fill="rgb(131,131,131)" filter="url(#b9)"/>
<rect x="211.06" y="315.32" width="8.00" height="3.36" rx="1.68" fill="rgb(101,101,101)" filter="url(#b9)"/>
<rect x="220.20" y="301.16" width="8.00" height="2.88" rx="1.44" fill="rgb(131,131,131)" filter="url(#b9)"/>
<rect x="220.20" y="315.32" width="8.00" height="3.36" rx="1.68" fill="rgb(101,101,101)" filter="url(#b9)"/>
<rect x="229.34" y="301.16" width="8.00" height="2.88" rx="1.44" fill="rgb(131,131,131)" filter="url(#b9)"/>
<rect x="229.34" y="315.32" width="8.00" height="3.36" rx="1.68" fill="rgb(101,101,101)" filter="url(#b9)"/>
<rect x="238.48" y="301.16" width="8.00" height="2.88" rx="1.44" fill="rgb(131,131,131)" filter="url(#b9)"/>
<rect x="238.48" y="315.32" width="8.00" height="3.36" rx="1.68" fill="rgb(101,101,101)" filter="url(#b9)"/>
<text x="27.70" y="297.80" font-size="7.6" font-weight="bold" font-style="italic" text-anchor="end" fill="#000" stroke="#000" stroke-width="0.28" textLength="9.5" lengthAdjust="spacingAndGlyphs">mu</text>
<text x="28.60" y="304.70" font-size="7.0" font-weight="bold" font-style="normal" text-anchor="end" fill="#000" stroke="#000" stroke-width="0.28" textLength="16.2" lengthAdjust="spacingAndGlyphs">c-<tspan font-style="italic">Abl</tspan></text>
<path d="M29.30,299.70 L34.30,302.00 L29.30,304.30 Z" stroke="#000" stroke-width="0" fill="#000"/>
<text x="27.70" y="313.60" font-size="7.0" font-weight="bold" font-style="italic" text-anchor="end" fill="#000" stroke="#000" stroke-width="0.28" textLength="15.4" lengthAdjust="spacingAndGlyphs">BCR-</text>
<text x="30.00" y="319.30" font-size="7.0" font-weight="bold" font-style="italic" text-anchor="end" fill="#000" stroke="#000" stroke-width="0.28" textLength="17.7" lengthAdjust="spacingAndGlyphs">ABL1</text>
<path d="M30.00,314.70 L34.60,317.00 L30.00,319.30 Z" stroke="#000" stroke-width="0" fill="#000"/>
<text x="30.00" y="329.00" font-size="7.2" font-weight="bold" font-style="normal" text-anchor="end" fill="#000" stroke="#000" stroke-width="0.28" textLength="22.3" lengthAdjust="spacingAndGlyphs">Proviral</text>
<text x="30.00" y="335.20" font-size="7.2" font-weight="bold" font-style="normal" text-anchor="end" fill="#000" stroke="#000" stroke-width="0.28" textLength="21.5" lengthAdjust="spacingAndGlyphs">copy #:</text>
<text x="44.00" y="328.00" font-size="7.2" font-weight="bold" font-style="normal" text-anchor="middle" fill="#000" stroke="#000" stroke-width="0.28" transform="rotate(-90 44.00 328.00)">1.0</text>
<text x="53.14" y="328.00" font-size="7.2" font-weight="bold" font-style="normal" text-anchor="middle" fill="#000" stroke="#000" stroke-width="0.28" transform="rotate(-90 53.14 328.00)">1.0</text>
<text x="62.28" y="328.00" font-size="7.2" font-weight="bold" font-style="normal" text-anchor="middle" fill="#000" stroke="#000" stroke-width="0.28" transform="rotate(-90 62.28 328.00)">0.7</text>
<text x="71.42" y="328.00" font-size="7.2" font-weight="bold" font-style="normal" text-anchor="middle" fill="#000" stroke="#000" stroke-width="0.28" transform="rotate(-90 71.42 328.00)">0.8</text>
<text x="80.56" y="328.00" font-size="7.2" font-weight="bold" font-style="normal" text-anchor="middle" fill="#000" stroke="#000" stroke-width="0.28" transform="rotate(-90 80.56 328.00)">0.8</text>
<text x="89.70" y="328.00" font-size="7.2" font-weight="bold" font-style="normal" text-anchor="middle" fill="#000" stroke="#000" stroke-width="0.28" transform="rotate(-90 89.70 328.00)">0.8</text>
<text x="98.84" y="328.00" font-size="7.2" font-weight="bold" font-style="normal" text-anchor="middle" fill="#000" stroke="#000" stroke-width="0.28" transform="rotate(-90 98.84 328.00)">0.8</text>
<text x="107.98" y="328.00" font-size="7.2" font-weight="bold" font-style="normal" text-anchor="middle" fill="#000" stroke="#000" stroke-width="0.28" transform="rotate(-90 107.98 328.00)">0.9</text>
<text x="117.12" y="328.00" font-size="7.2" font-weight="bold" font-style="normal" text-anchor="middle" fill="#000" stroke="#000" stroke-width="0.28" transform="rotate(-90 117.12 328.00)">1.2</text>
<text x="126.26" y="328.00" font-size="7.2" font-weight="bold" font-style="normal" text-anchor="middle" fill="#000" stroke="#000" stroke-width="0.28" transform="rotate(-90 126.26 328.00)">0.9</text>
<text x="135.40" y="328.00" font-size="7.2" font-weight="bold" font-style="normal" text-anchor="middle" fill="#000" stroke="#000" stroke-width="0.28" transform="rotate(-90 135.40 328.00)">1.2</text>
<text x="144.54" y="328.00" font-size="7.2" font-weight="bold" font-style="normal" text-anchor="middle" fill="#000" stroke="#000" stroke-width="0.28" transform="rotate(-90 144.54 328.00)">1.0</text>
<text x="153.68" y="328.00" font-size="7.2" font-weight="bold" font-style="normal" text-anchor="middle" fill="#000" stroke="#000" stroke-width="0.28" transform="rotate(-90 153.68 328.00)">1.0</text>
<text x="162.82" y="328.00" font-size="7.2" font-weight="bold" font-style="normal" text-anchor="middle" fill="#000" stroke="#000" stroke-width="0.28" transform="rotate(-90 162.82 328.00)">1.0</text>
<text x="171.96" y="328.00" font-size="7.2" font-weight="bold" font-style="normal" text-anchor="middle" fill="#000" stroke="#000" stroke-width="0.28" transform="rotate(-90 171.96 328.00)">0.9</text>
<text x="181.10" y="328.00" font-size="7.2" font-weight="bold" font-style="normal" text-anchor="middle" fill="#000" stroke="#000" stroke-width="0.28" transform="rotate(-90 181.10 328.00)">0.9</text>
<text x="190.24" y="328.00" font-size="7.2" font-weight="bold" font-style="normal" text-anchor="middle" fill="#000" stroke="#000" stroke-width="0.28" transform="rotate(-90 190.24 328.00)">1.1</text>
<text x="199.38" y="328.00" font-size="7.2" font-weight="bold" font-style="normal" text-anchor="middle" fill="#000" stroke="#000" stroke-width="0.28" transform="rotate(-90 199.38 328.00)">1.0</text>
<text x="208.52" y="328.00" font-size="7.2" font-weight="bold" font-style="normal" text-anchor="middle" fill="#000" stroke="#000" stroke-width="0.28" transform="rotate(-90 208.52 328.00)">1.5</text>
<text x="217.66" y="328.00" font-size="7.2" font-weight="bold" font-style="normal" text-anchor="middle" fill="#000" stroke="#000" stroke-width="0.28" transform="rotate(-90 217.66 328.00)">0.9</text>
<text x="226.80" y="328.00" font-size="7.2" font-weight="bold" font-style="normal" text-anchor="middle" fill="#000" stroke="#000" stroke-width="0.28" transform="rotate(-90 226.80 328.00)">0.9</text>
<text x="235.94" y="328.00" font-size="7.2" font-weight="bold" font-style="normal" text-anchor="middle" fill="#000" stroke="#000" stroke-width="0.28" transform="rotate(-90 235.94 328.00)">0.7</text>
<text x="245.08" y="328.00" font-size="7.2" font-weight="bold" font-style="normal" text-anchor="middle" fill="#000" stroke="#000" stroke-width="0.28" transform="rotate(-90 245.08 328.00)">0.9</text>
<text x="-1.00" y="353.30" font-size="12.3" font-weight="bold" font-style="normal" text-anchor="start" fill="#000" stroke="#000" stroke-width="0.28">E</text>
<clipPath id="ce"><rect x="48" y="359.6" width="207.4" height="124.6"/></clipPath>
<g clip-path="url(#ce)">
<line x1="47.00" y1="335.98" x2="260.00" y2="1060.78" stroke="#6a6a6a" stroke-width="0.9" stroke-dasharray="1.1 1.1"/>
<line x1="47.00" y1="355.47" x2="260.00" y2="561.31" stroke="#777" stroke-width="0.9" stroke-dasharray="1.1 1.1"/>
<line x1="47.00" y1="357.06" x2="260.00" y2="520.43" stroke="#8c8c8c" stroke-width="0.9" stroke-dasharray="1.1 1.1"/>
<line x1="47.00" y1="357.25" x2="260.00" y2="515.59" stroke="#8aa0b4" stroke-width="0.9" stroke-dasharray="1.1 1.1"/>
<line x1="47.00" y1="361.83" x2="260.00" y2="398.18" stroke="#d88a8a" stroke-width="0.9" stroke-dasharray="1.1 1.1"/>
<line x1="47.00" y1="361.64" x2="260.00" y2="403.28" stroke="#999" stroke-width="0.9" stroke-dasharray="1.1 1.1"/>
<line x1="47.00" y1="347.11" x2="260.00" y2="743.50" stroke="#000" stroke-width="1.6"/>
<line x1="47.00" y1="360.34" x2="260.00" y2="436.59" stroke="#6fba4a" stroke-width="1.6"/>
<line x1="47.00" y1="360.02" x2="260.00" y2="433.94" stroke="#c8322c" stroke-width="1.6"/>
</g>
<path d="M175.7,359.4 H47.8 V484.5 H255.8 V359.4 H251.3" stroke="#000" stroke-width="1.3" fill="none"/>
<line x1="44.00" y1="363.80" x2="47.80" y2="363.80" stroke="#000" stroke-width="1.2"/>
<text x="42.20" y="366.80" font-size="8.4" font-weight="bold" font-style="normal" text-anchor="end" fill="#000" stroke="#000" stroke-width="0.28">0.0</text>
<line x1="44.00" y1="388.90" x2="47.80" y2="388.90" stroke="#000" stroke-width="1.2"/>
<text x="42.20" y="391.90" font-size="8.4" font-weight="bold" font-style="normal" text-anchor="end" fill="#000" stroke="#000" stroke-width="0.28">&#8722;0.5</text>
<line x1="44.00" y1="414.00" x2="47.80" y2="414.00" stroke="#000" stroke-width="1.2"/>
<text x="42.20" y="417.00" font-size="8.4" font-weight="bold" font-style="normal" text-anchor="end" fill="#000" stroke="#000" stroke-width="0.28">&#8722;1.0</text>
<line x1="44.00" y1="439.10" x2="47.80" y2="439.10" stroke="#000" stroke-width="1.2"/>
<text x="42.20" y="442.10" font-size="8.4" font-weight="bold" font-style="normal" text-anchor="end" fill="#000" stroke="#000" stroke-width="0.28">&#8722;1.5</text>
<line x1="44.00" y1="464.20" x2="47.80" y2="464.20" stroke="#000" stroke-width="1.2"/>
<text x="42.20" y="467.20" font-size="8.4" font-weight="bold" font-style="normal" text-anchor="end" fill="#000" stroke="#000" stroke-width="0.28">&#8722;2.0</text>
<line x1="55.00" y1="484.50" x2="55.00" y2="488.30" stroke="#000" stroke-width="1.2"/>
<text x="55.00" y="496.30" font-size="8.4" font-weight="bold" font-style="normal" text-anchor="middle" fill="#000" stroke="#000" stroke-width="0.28">0</text>
<line x1="87.20" y1="484.50" x2="87.20" y2="488.30" stroke="#000" stroke-width="1.2"/>
<text x="87.20" y="496.30" font-size="8.4" font-weight="bold" font-style="normal" text-anchor="middle" fill="#000" stroke="#000" stroke-width="0.28">0.5</text>
<line x1="119.40" y1="484.50" x2="119.40" y2="488.30" stroke="#000" stroke-width="1.2"/>
<text x="119.40" y="496.30" font-size="8.4" font-weight="bold" font-style="normal" text-anchor="middle" fill="#000" stroke="#000" stroke-width="0.28">1.0</text>
<line x1="151.60" y1="484.50" x2="151.60" y2="488.30" stroke="#000" stroke-width="1.2"/>
<text x="151.60" y="496.30" font-size="8.4" font-weight="bold" font-style="normal" text-anchor="middle" fill="#000" stroke="#000" stroke-width="0.28">1.5</text>
<line x1="183.80" y1="484.50" x2="183.80" y2="488.30" stroke="#000" stroke-width="1.2"/>
<text x="183.80" y="496.30" font-size="8.4" font-weight="bold" font-style="normal" text-anchor="middle" fill="#000" stroke="#000" stroke-width="0.28">2.0</text>
<line x1="216.00" y1="484.50" x2="216.00" y2="488.30" stroke="#000" stroke-width="1.2"/>
<text x="216.00" y="496.30" font-size="8.4" font-weight="bold" font-style="normal" text-anchor="middle" fill="#000" stroke="#000" stroke-width="0.28">2.5</text>
<line x1="248.20" y1="484.50" x2="248.20" y2="488.30" stroke="#000" stroke-width="1.2"/>
<text x="248.20" y="496.30" font-size="8.4" font-weight="bold" font-style="normal" text-anchor="middle" fill="#000" stroke="#000" stroke-width="0.28">3.0</text>
<text x="115.20" y="513.00" font-size="9.4" font-weight="bold" font-style="normal" text-anchor="start" fill="#000" stroke="#000" stroke-width="0.28" textLength="62.8" lengthAdjust="spacingAndGlyphs">Cell dose (x 10</text>
<text x="179.40" y="507.60" font-size="6.2" font-weight="bold" font-style="normal" text-anchor="start" fill="#000" stroke="#000" stroke-width="0.28">6</text>
<text x="185.00" y="513.00" font-size="9.4" font-weight="bold" font-style="normal" text-anchor="start" fill="#000" stroke="#000" stroke-width="0.28">)</text>
<text x="20.20" y="478.00" font-size="9.4" font-weight="bold" font-style="normal" text-anchor="start" fill="#000" stroke="#000" stroke-width="0.28" textLength="114.7" lengthAdjust="spacingAndGlyphs" transform="rotate(-90 20.20 478.00)">Log fraction without CML</text>
<circle cx="59.60" cy="363.10" r="2.6" fill="#d8323a"/>
<circle cx="67.80" cy="364.20" r="2.6" fill="#72b84f"/>
<circle cx="59.60" cy="376.90" r="2.6" fill="#000"/>
<circle cx="67.80" cy="376.50" r="2.6" fill="#d8323a"/>
<circle cx="67.80" cy="387.70" r="2.6" fill="#000"/>
<circle cx="100.40" cy="375.40" r="2.6" fill="#72b84f"/>
<circle cx="119.30" cy="374.60" r="2.6" fill="#d8323a"/>
<circle cx="119.60" cy="389.20" r="2.6" fill="#72b84f"/>
<circle cx="100.10" cy="407.70" r="2.6" fill="#d8323a"/>
<circle cx="100.10" cy="410.80" r="2.6" fill="#000"/>
<circle cx="183.30" cy="389.50" r="2.6" fill="#d8323a"/>
<circle cx="183.30" cy="412.50" r="2.6" fill="#72b84f"/>
<circle cx="119.3" cy="478.8" r="1.9" fill="#fff" stroke="#000" stroke-width="1.1"/>
<circle cx="183.7" cy="480.0" r="1.9" fill="#fff" stroke="#000" stroke-width="1.1"/>
<circle cx="247.8" cy="432.8" r="1.9" fill="#fff" stroke="#72b84f" stroke-width="1.1"/>
<rect x="175.70" y="345.50" width="75.60" height="32.20" fill="#fff" stroke="#000" stroke-width="1.2"/>
<text x="192.00" y="352.50" font-size="8.2" font-weight="normal" font-style="normal" text-anchor="start" fill="#000" stroke="#000" stroke-width="0.4" textLength="48.0" lengthAdjust="spacingAndGlyphs">Primary donor:</text>
<line x1="176.50" y1="357.80" x2="190.40" y2="357.80" stroke="#72b84f" stroke-width="1.4"/>
<circle cx="179.60" cy="357.80" r="2.2" fill="#72b84f"/>
<text x="192.10" y="360.00" font-size="7.8" font-weight="normal" font-style="italic" text-anchor="start" fill="#000" stroke="#000" stroke-width="0.18" textLength="56.3" lengthAdjust="spacingAndGlyphs">BCR-ABL1/IKK&#945;KM</text>
<line x1="176.50" y1="365.20" x2="190.40" y2="365.20" stroke="#d8323a" stroke-width="1.4"/>
<circle cx="179.60" cy="365.20" r="2.2" fill="#d8323a"/>
<text x="192.10" y="367.40" font-size="7.8" font-weight="normal" font-style="italic" text-anchor="start" fill="#000" stroke="#000" stroke-width="0.18" textLength="54.5" lengthAdjust="spacingAndGlyphs">BCR-ABL1/I&#954;B&#945;SR</text>
<line x1="176.50" y1="372.60" x2="190.40" y2="372.60" stroke="#000" stroke-width="1.4"/>
<circle cx="179.60" cy="372.60" r="2.2" fill="#000"/>
<text x="192.10" y="374.80" font-size="7.8" font-weight="normal" font-style="italic" text-anchor="start" fill="#000" stroke="#000" stroke-width="0.18" textLength="45.4" lengthAdjust="spacingAndGlyphs">BCR-ABL1/GFP</text></svg>
</body></html>
